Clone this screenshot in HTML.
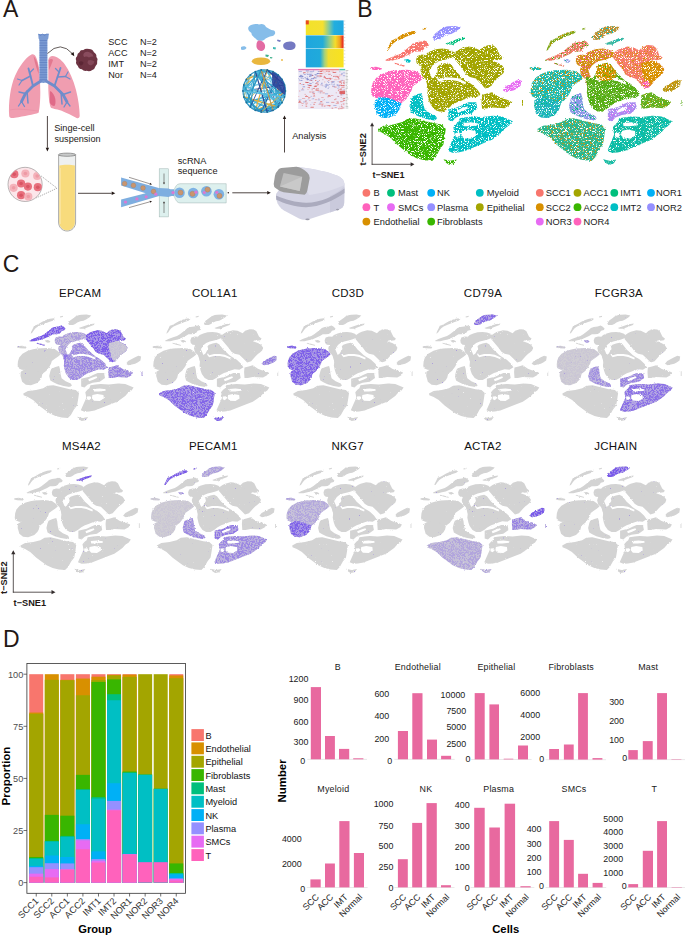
<!DOCTYPE html><html><head><meta charset="utf-8"><title>Figure</title><style>
html,body{margin:0;padding:0;background:#fff;width:685px;height:936px;overflow:hidden}
svg{display:block}text{font-family:"Liberation Sans",sans-serif}
</style></head><body>
<svg width="685" height="936" viewBox="0 0 685 936">
<defs>
<path id="c_endo" fill-rule="nonzero" d="M387.0,51.0 L387.6,48.3 L389.9,43.6 L391.1,40.7 L394.0,39.5 L397.5,37.6 L401.0,35.2 L405.7,33.2 L410.4,31.6 L415.1,30.8 L416.3,31.9 L413.9,33.9 L409.2,35.6 L404.5,37.6 L399.9,39.7 L395.8,41.5 L392.9,43.8 L391.1,46.1 L388.8,49.6 Z M422.5,28.6 L426.4,27.6 L426.0,29.2 L422.8,29.8 Z"/>
<path id="c_b" fill-rule="nonzero" d="M385.3,60.0 L389.4,58.0 L395.2,55.7 L399.9,53.9 L403.4,51.6 L406.9,48.7 L410.4,45.7 L412.7,43.4 L416.2,42.2 L420.9,41.5 L424.4,40.4 L426.7,41.6 L429.3,44.2 L428.5,46.0 L425.0,47.0 L423.4,49.8 L421.0,51.4 L417.4,51.6 L413.9,51.8 L410.4,53.9 L405.7,56.1 L401.0,58.4 L396.4,59.6 L391.7,60.7 L386.0,60.8 Z M394.6,62.7 L399.5,64.0 L404.8,65.6 L404.4,66.7 L399.0,65.2 L394.4,63.8 Z"/>
<path id="c_plasma" fill-rule="nonzero" d="M432.6,37.5 L434.9,33.7 L438.4,31.1 L441.9,28.2 L446.0,26.5 L448.7,26.2 L454.9,25.9 L460.7,27.3 L458.6,29.6 L454.9,32.1 L451.2,34.0 L447.4,34.6 L443.7,36.5 L441.2,38.3 L438.4,39.7 L433.7,39.7 Z"/>
<path id="c_mast" fill-rule="nonzero" d="M445.4,43.5 L452.4,41.0 L458.6,38.6 L464.9,37.6 L463.8,39.6 L457.4,42.1 L453.5,44.0 L453.3,45.8 L452.0,44.6 L447.4,44.6 Z"/>
<path id="c_epiA" fill-rule="nonzero" d="M416.1,59.5 L417.4,56.0 L421.4,54.5 L425.3,54.9 L427.5,52.8 L431.9,50.6 L437.2,49.0 L443.3,48.6 L448.5,49.5 L452.9,51.0 L455.7,53.8 L454.2,56.7 L449.4,58.4 L445.0,59.7 L439.8,61.0 L435.4,63.2 L432.3,65.8 L430.6,68.5 L428.8,71.1 L425.8,70.2 L424.5,67.6 L422.3,65.8 L418.8,65.4 L416.6,63.2 Z M422.0,65.0 L428.8,70.5 L432.0,78.8 L428.2,88.5 L425.6,79.0 L421.8,75.5 L420.5,70.0 Z"/>
<path id="c_epiB" fill-rule="nonzero" d="M454.5,52.5 L458.0,50.0 L461.2,48.4 L467.9,46.4 L473.5,47.2 L479.7,50.3 L482.8,47.2 L488.4,45.1 L493.4,45.4 L496.5,47.9 L498.3,51.6 L499.6,54.7 L502.9,57.4 L501.4,59.4 L497.0,60.2 L494.6,59.4 L492.2,60.7 L498.3,63.0 L502.2,65.5 L504.7,69.2 L503.5,72.9 L500.8,75.6 L498.3,77.4 L495.5,80.3 L490.1,86.8 L485.3,88.4 L480.5,83.4 L475.7,78.5 L470.0,77.0 L466.1,74.4 L462.6,69.2 L459.0,64.8 L456.4,61.3 L453.6,57.8 Z"/>
<path id="c_epiC" fill-rule="evenodd" d="M428.4,77.0 L431.9,78.6 L434.5,76.8 L436.3,73.3 L437.8,70.9 L437.0,67.4 L438.9,65.4 L443.3,63.7 L447.7,62.8 L451.2,64.6 L453.8,68.3 L456.4,71.8 L459.9,75.3 L463.4,78.8 L466.9,81.4 L470.2,83.2 L472.6,85.0 L477.5,89.8 L480.7,94.6 L475.9,98.0 L470.0,97.4 L465.2,99.1 L460.8,100.9 L456.4,102.6 L452.0,105.3 L447.7,108.8 L443.3,111.4 L438.0,111.4 L433.6,108.8 L430.1,103.5 L428.6,98.9 L427.3,92.8 L427.8,87.5 L427.3,83.2 L425.6,78.8 Z M437.2,75.8 L439.0,79.0 L445.0,77.3 L452.0,77.5 L458.0,78.3 L466.0,82.3 L465.5,84.5 L458.0,81.3 L452.0,80.0 L445.0,80.0 L439.0,81.8 L436.6,78.5 Z"/>
<path id="c_epiD" fill-rule="nonzero" d="M482.0,94.9 L487.0,93.6 L492.1,92.2 L498.3,96.6 L503.0,98.5 L507.0,99.7 L511.5,101.7 L509.5,105.1 L504.5,108.2 L498.0,107.8 L492.1,107.5 L486.0,108.6 L482.0,108.8 L481.5,101.0 Z M522.0,100.0 L523.0,100.0 L523.0,106.0 L522.0,106.0 Z"/>
<path id="c_t" fill-rule="nonzero" d="M371.0,93.0 L371.5,87.0 L373.0,82.0 L377.0,77.0 L383.5,73.2 L389.8,71.3 L395.2,70.3 L406.9,69.7 L416.2,70.9 L420.9,74.4 L423.4,78.1 L420.0,81.0 L416.0,84.0 L412.7,86.5 L411.7,90.0 L409.7,94.0 L406.1,99.3 L401.0,103.6 L393.5,101.1 L383.6,98.6 L376.2,98.0 L372.0,96.0 Z M370.5,67.3 L376.0,66.8 L382.0,68.3 L381.0,70.1 L374.0,69.9 L370.3,69.1 Z"/>
<path id="c_nk" fill-rule="nonzero" d="M374.9,100.5 L379.9,97.2 L387.3,97.8 L394.8,100.3 L401.3,103.2 L400.2,108.0 L398.5,111.2 L394.8,115.4 L387.3,118.1 L381.1,117.5 L376.6,113.7 L374.6,106.1 Z"/>
<path id="c_myL" fill-rule="nonzero" d="M410.9,99.9 L412.1,96.8 L417.1,94.3 L421.5,93.1 L422.7,97.4 L423.3,103.6 L424.6,109.2 L429.5,112.9 L435.7,116.0 L437.2,118.5 L434.5,120.6 L427.0,119.3 L419.6,116.8 L414.6,114.4 L410.9,111.9 L409.5,106.1 Z M404.0,59.8 L408.0,59.1 L411.0,60.8 L409.5,62.8 L406.0,62.2 Z"/>
<path id="c_myU" fill-rule="evenodd" d="M448.4,109.8 L452.0,108.6 L458.6,107.1 L463.5,104.5 L468.5,102.2 L476.2,102.2 L477.4,108.6 L471.0,113.7 L462.3,115.0 L456.0,117.5 L452.4,121.2 L448.4,119.9 Z M457.0,110.5 L462.0,108.0 L467.0,106.5 L468.0,108.5 L463.0,111.0 L458.0,113.0 Z"/>
<path id="c_myR" fill-rule="evenodd" d="M459.7,118.3 L466.0,117.2 L472.3,116.4 L482.2,117.1 L493.3,115.8 L502.0,116.4 L512.2,121.0 L509.7,124.9 L505.5,128.0 L502.0,132.3 L497.0,136.0 L492.1,139.8 L485.0,142.5 L477.2,146.0 L471.0,148.5 L464.8,151.0 L458.0,152.4 L452.4,152.8 L447.9,150.8 L451.0,143.3 L454.7,134.6 L453.4,127.2 L456.0,124.0 L458.4,122.2 Z M462.0,131.0 L468.0,129.5 L475.5,131.0 L476.0,135.5 L471.0,138.8 L464.0,138.5 L461.5,135.0 Z M455.5,133.0 L459.5,132.5 L460.5,135.5 L458.0,137.8 L455.5,136.5 Z M463.5,123.0 L471.0,122.3 L478.5,123.5 L478.0,125.5 L470.0,126.3 L464.0,126.2 Z"/>
<path id="c_fib" fill-rule="nonzero" d="M378.0,129.0 L383.6,125.8 L393.5,124.5 L402.2,122.0 L407.2,118.9 L414.6,118.3 L424.6,120.8 L434.5,123.3 L441.9,124.5 L445.8,128.4 L444.6,137.1 L443.4,144.6 L439.6,149.7 L435.9,157.0 L432.2,160.9 L424.6,160.3 L417.1,158.4 L409.7,154.7 L403.5,149.7 L397.3,144.8 L389.8,137.3 L383.6,133.6 L378.4,131.1 Z"/>
<path id="c_fib2" fill-rule="nonzero" d="M443.5,159.3 L450.0,160.8 L456.9,159.6 L454.0,163.7 L449.0,164.8 L446.0,162.7 Z"/>
<path id="c_smc" fill-rule="nonzero" d="M502.8,90.2 L505.5,86.5 L510.0,84.0 L514.0,81.5 L518.0,79.8 L521.3,80.6 L520.5,86.0 L517.0,88.5 L514.0,90.2 L506.0,92.2 Z"/>
<path id="c_epiB_lr" fill-rule="nonzero" d="M482.0,63.0 L492.0,60.5 L498.0,63.0 L502.0,65.5 L504.7,69.2 L503.5,72.9 L500.8,75.6 L498.3,77.4 L495.5,80.3 L490.1,86.8 L486.0,84.0 L484.0,76.0 L482.0,70.0 Z"/>
<path id="c_epiB_pk" fill-rule="nonzero" d="M484.0,82.0 L489.0,80.5 L491.0,84.0 L489.5,87.5 L485.5,88.0 L483.5,85.0 Z"/>
<path id="c_epiC_top" fill-rule="nonzero" d="M437.0,67.0 L438.9,65.4 L443.3,63.7 L447.7,62.8 L451.2,64.6 L453.8,68.3 L456.4,71.8 L457.0,76.0 L452.0,80.0 L446.0,81.0 L440.0,80.0 L436.0,76.0 L436.3,73.3 L437.8,70.9 Z"/>
<marker id="ah" viewBox="0 0 10 10" refX="9" refY="5" markerWidth="5" markerHeight="5" orient="auto"><path d="M0,0 L10,5 L0,10 Z" fill="#231815"/></marker>
<filter id="rag" x="-5%" y="-5%" width="110%" height="110%" color-interpolation-filters="sRGB">
<feTurbulence type="fractalNoise" baseFrequency="0.7" numOctaves="2" seed="4" result="t1"/>
<feDisplacementMap in="SourceGraphic" in2="t1" scale="2.4" xChannelSelector="R" yChannelSelector="G" result="d"/>
<feTurbulence type="fractalNoise" baseFrequency="1.3" numOctaves="1" seed="11" result="t2"/>
<feColorMatrix in="t2" type="matrix" values="0 0 0 0 0 0 0 0 0 0 0 0 0 0 0 -9 0 0 0 5.95" result="m"/>
<feComposite in="d" in2="m" operator="in"/>
</filter>
<filter id="ragc" x="-5%" y="-5%" width="110%" height="110%" color-interpolation-filters="sRGB">
<feMorphology in="SourceGraphic" operator="dilate" radius="0.3" result="dl"/>
<feTurbulence type="fractalNoise" baseFrequency="0.8" numOctaves="2" seed="4" result="t1"/>
<feDisplacementMap in="dl" in2="t1" scale="2.6" xChannelSelector="R" yChannelSelector="G" result="d"/>
<feTurbulence type="fractalNoise" baseFrequency="1.4" numOctaves="1" seed="21" result="t2"/>
<feColorMatrix in="t2" type="matrix" values="0 0 0 0 0 0 0 0 0 0 0 0 0 0 0 -9 0 0 0 7.6" result="m"/>
<feComposite in="d" in2="m" operator="in"/>
</filter>
<filter id="pspk" x="-5%" y="-5%" width="110%" height="110%" color-interpolation-filters="sRGB">
<feTurbulence type="fractalNoise" baseFrequency="1.5" numOctaves="1" seed="53" result="t2"/>
<feColorMatrix in="t2" type="matrix" values="0 0 0 0 0 0 0 0 0 0 0 0 0 0 0 -7 0 0 0 4.05" result="m"/>
<feComposite in="SourceGraphic" in2="m" operator="in"/>
</filter>
<filter id="pdots" x="-5%" y="-5%" width="110%" height="110%" color-interpolation-filters="sRGB">
<feTurbulence type="fractalNoise" baseFrequency="1.3" numOctaves="1" seed="71" result="t2"/>
<feColorMatrix in="t2" type="matrix" values="0 0 0 0 0 0 0 0 0 0 0 0 0 0 0 20 0 0 0 -14.8" result="m"/>
<feComposite in="SourceGraphic" in2="m" operator="in"/>
</filter>
<filter id="spk" x="-5%" y="-5%" width="110%" height="110%" color-interpolation-filters="sRGB">
<feTurbulence type="fractalNoise" baseFrequency="0.7" numOctaves="2" seed="4" result="t1"/>
<feDisplacementMap in="SourceGraphic" in2="t1" scale="2.4" xChannelSelector="R" yChannelSelector="G" result="d"/>
<feTurbulence type="fractalNoise" baseFrequency="1.6" numOctaves="1" seed="37" result="t2"/>
<feColorMatrix in="t2" type="matrix" values="0 0 0 0 0 0 0 0 0 0 0 0 0 0 0 9 0 0 0 -5.2" result="m"/>
<feComposite in="d" in2="m" operator="in"/>
</filter>
</defs>
<rect width="685" height="936" fill="#fff"/>
<text x="3.0" y="16.9" font-size="23" text-anchor="start" fill="#231815">A</text>
<text x="357.2" y="16.8" font-size="23" text-anchor="start" fill="#231815">B</text>
<text x="2.7" y="271.6" font-size="23" text-anchor="start" fill="#231815">C</text>
<text x="2.9" y="647.4" font-size="23" text-anchor="start" fill="#231815">D</text>
<g id="lungs">
<path d="M9.2,116 C8.2,103 10.5,86 15,76 C19,67 25,58 31.5,54.5 C33.5,53.8 35,55 36.2,57.5 C38.6,63 39.6,70 40,80 L40.3,92 C40.3,100 39.8,108 38.6,112.8 C34,114.6 24,116.3 15,117.8 C11.5,118.4 9.4,118 9.2,116 Z" fill="#F09DB0"/>
<path d="M33.5,56 C35.5,58 37.5,62 38.5,68 L38.8,74 C37,70 35,64 33.5,56 Z" fill="#E2788F"/>
<path d="M10,110 C18,108 28,110 38.5,111" stroke="#E58DA2" stroke-width="0.6" fill="none"/>
<path d="M48.3,60 C48.8,57.5 50.5,56 52.5,56 C57,56.2 61,59.5 64.5,64 C69.5,71 73.5,80 76,90 C78.3,99 79.5,108 79.7,115.5 C79.7,117.6 78.4,118.6 76.6,118 C72.5,116 67,113 61,110.6 C56,109 52,108.7 50.8,107.5 C49.3,104 48.5,96 48.3,88 Z" fill="#F09DB0"/>
<path d="M50,91 C52.5,92 54.5,95 55.3,99 C55.8,102 55.5,105 54.3,106 C52.3,106 50.5,104.8 49.8,102.5 Z" fill="#E06A88"/>
<path d="M48.7,60 C50.5,58.5 52.5,58.5 53,60 C52,63 50.5,67 49,70 Z" fill="#E2788F"/>
<path d="M38.2,34 L48.8,34 L48.3,38.5 L47.4,40 L47.4,81 C46,83.5 41,83.5 39.4,81 L39.4,40 L38.6,38.5 Z" fill="#7B9BD3"/>
<line x1="39.6" y1="40.5" x2="47.2" y2="40.5" stroke="#5B7CC0" stroke-width="0.7"/>
<line x1="39.6" y1="43.0" x2="47.2" y2="43.0" stroke="#5B7CC0" stroke-width="0.7"/>
<line x1="39.6" y1="45.4" x2="47.2" y2="45.4" stroke="#5B7CC0" stroke-width="0.7"/>
<line x1="39.6" y1="47.9" x2="47.2" y2="47.9" stroke="#5B7CC0" stroke-width="0.7"/>
<line x1="39.6" y1="50.3" x2="47.2" y2="50.3" stroke="#5B7CC0" stroke-width="0.7"/>
<line x1="39.6" y1="52.8" x2="47.2" y2="52.8" stroke="#5B7CC0" stroke-width="0.7"/>
<line x1="39.6" y1="55.2" x2="47.2" y2="55.2" stroke="#5B7CC0" stroke-width="0.7"/>
<line x1="39.6" y1="57.7" x2="47.2" y2="57.7" stroke="#5B7CC0" stroke-width="0.7"/>
<line x1="39.6" y1="60.1" x2="47.2" y2="60.1" stroke="#5B7CC0" stroke-width="0.7"/>
<line x1="39.6" y1="62.5" x2="47.2" y2="62.5" stroke="#5B7CC0" stroke-width="0.7"/>
<line x1="39.6" y1="65.0" x2="47.2" y2="65.0" stroke="#5B7CC0" stroke-width="0.7"/>
<line x1="39.6" y1="67.5" x2="47.2" y2="67.5" stroke="#5B7CC0" stroke-width="0.7"/>
<line x1="39.6" y1="69.9" x2="47.2" y2="69.9" stroke="#5B7CC0" stroke-width="0.7"/>
<line x1="39.6" y1="72.3" x2="47.2" y2="72.3" stroke="#5B7CC0" stroke-width="0.7"/>
<line x1="39.6" y1="74.8" x2="47.2" y2="74.8" stroke="#5B7CC0" stroke-width="0.7"/>
<line x1="39.6" y1="77.2" x2="47.2" y2="77.2" stroke="#5B7CC0" stroke-width="0.7"/>
<line x1="39.6" y1="79.7" x2="47.2" y2="79.7" stroke="#5B7CC0" stroke-width="0.7"/>
<path d="M38.2,34 L40.5,35.5 L42.5,34 L44.5,35.5 L46.5,34 L48.8,34" stroke="#5B7CC0" stroke-width="0.6" fill="none"/>
<path d="M41,81 L33,86 L25.5,93.5 L21.5,101.5" stroke="#6F8DCB" stroke-width="2.8" fill="none" stroke-linecap="round" stroke-linejoin="round"/>
<path d="M33,86 L30,74 L28.5,68.5" stroke="#6F8DCB" stroke-width="1.9" fill="none" stroke-linecap="round" stroke-linejoin="round"/>
<path d="M30.5,76 L22,80.5" stroke="#6F8DCB" stroke-width="1.5" fill="none" stroke-linecap="round" stroke-linejoin="round"/>
<path d="M29.5,73 L33.5,69" stroke="#6F8DCB" stroke-width="1.3" fill="none" stroke-linecap="round" stroke-linejoin="round"/>
<path d="M25.5,93.5 L19,92" stroke="#6F8DCB" stroke-width="1.5" fill="none" stroke-linecap="round" stroke-linejoin="round"/>
<path d="M27,91 L28,103" stroke="#6F8DCB" stroke-width="1.5" fill="none" stroke-linecap="round" stroke-linejoin="round"/>
<path d="M21.5,101.5 L18.5,106" stroke="#6F8DCB" stroke-width="1.3" fill="none" stroke-linecap="round" stroke-linejoin="round"/>
<path d="M21.5,101.5 L24.5,106.5" stroke="#6F8DCB" stroke-width="1.3" fill="none" stroke-linecap="round" stroke-linejoin="round"/>
<path d="M22,80.5 L17.5,79" stroke="#6F8DCB" stroke-width="1.2" fill="none" stroke-linecap="round" stroke-linejoin="round"/>
<path d="M22,80.5 L19,85" stroke="#6F8DCB" stroke-width="1.2" fill="none" stroke-linecap="round" stroke-linejoin="round"/>
<path d="M46,81 L54.5,86 L63,94.5 L67,102" stroke="#6F8DCB" stroke-width="2.8" fill="none" stroke-linecap="round" stroke-linejoin="round"/>
<path d="M54.5,86 L58.5,74 L60.5,68" stroke="#6F8DCB" stroke-width="1.9" fill="none" stroke-linecap="round" stroke-linejoin="round"/>
<path d="M57.5,77 L65.5,76.5" stroke="#6F8DCB" stroke-width="1.5" fill="none" stroke-linecap="round" stroke-linejoin="round"/>
<path d="M59,72 L55.5,68.5" stroke="#6F8DCB" stroke-width="1.3" fill="none" stroke-linecap="round" stroke-linejoin="round"/>
<path d="M63,94.5 L70.5,92" stroke="#6F8DCB" stroke-width="1.5" fill="none" stroke-linecap="round" stroke-linejoin="round"/>
<path d="M61,92 L62,104" stroke="#6F8DCB" stroke-width="1.5" fill="none" stroke-linecap="round" stroke-linejoin="round"/>
<path d="M67,102 L70,106" stroke="#6F8DCB" stroke-width="1.3" fill="none" stroke-linecap="round" stroke-linejoin="round"/>
<path d="M67,102 L64,107" stroke="#6F8DCB" stroke-width="1.3" fill="none" stroke-linecap="round" stroke-linejoin="round"/>
<path d="M65.5,76.5 L70,79" stroke="#6F8DCB" stroke-width="1.2" fill="none" stroke-linecap="round" stroke-linejoin="round"/>
<path d="M65.5,76.5 L68,72" stroke="#6F8DCB" stroke-width="1.2" fill="none" stroke-linecap="round" stroke-linejoin="round"/>
</g>
<path d="M79.5,52.3 Q80.5,49.5 83,50.2 Q86,48 89.1,49.1 Q92.5,49.2 93.9,52.3 Q96.8,54 96.4,57.1 Q98.4,59 97.2,61.1 Q97.8,64.5 95.6,66 Q94.6,69.5 92.3,70 Q89.5,72 86.7,70.8 Q83.8,71.5 81.9,69.2 Q78.5,69 77.9,66 Q75.2,63.8 76.3,61.1 Q75,58 77.1,56.3 Q77.2,53.2 79.5,52.3 Z" fill="#6D3342"/>
<path d="M84,53 Q87,51 90,52.5 Q93,53.5 93.5,56.5 Q91,56 89,57.5 Q86.5,56 84,57 Q82.5,55 84,53 Z" fill="#8E5163" opacity="0.85"/>
<path d="M88,60.5 Q91.5,59 94.5,61.5 Q94,64.5 91,65.5 Q88.5,65 87.5,63 Z" fill="#8A4D5F" opacity="0.8"/>
<path d="M79,62 Q81.5,60.5 83.5,62.5 Q83,65.5 80.5,65.5 Q78.5,64.5 79,62 Z" fill="#5A2534" opacity="0.9"/>
<path d="M47.5,53.5 Q60.5,40 72.8,54" stroke="#231815" stroke-width="0.7" fill="none"/>
<path d="M74.3,56.3 L70.6,53.9 L73.6,51.9 Z" fill="#231815"/>
<text x="108.3" y="45.1" font-size="9.1" text-anchor="start" fill="#231815">SCC</text>
<text x="139.9" y="45.1" font-size="9.1" text-anchor="start" fill="#231815">N=2</text>
<text x="108.3" y="56.1" font-size="9.1" text-anchor="start" fill="#231815">ACC</text>
<text x="139.9" y="56.1" font-size="9.1" text-anchor="start" fill="#231815">N=2</text>
<text x="108.3" y="67.0" font-size="9.1" text-anchor="start" fill="#231815">IMT</text>
<text x="139.9" y="67.0" font-size="9.1" text-anchor="start" fill="#231815">N=2</text>
<text x="108.3" y="78.0" font-size="9.1" text-anchor="start" fill="#231815">Nor</text>
<text x="139.9" y="78.0" font-size="9.1" text-anchor="start" fill="#231815">N=4</text>
<line x1="47.4" y1="116.0" x2="47.4" y2="147.8" stroke="#231815" stroke-width="0.8"/>
<path d="M47.4,151.4 L45.7,147.8 L49.1,147.8 Z" fill="#231815"/>
<text x="54.2" y="131.1" font-size="9.2" text-anchor="start" fill="#231815">Singe-cell</text>
<text x="54.5" y="141.9" font-size="9.1" text-anchor="start" fill="#231815">suspension</text>
<circle cx="25.1" cy="184.4" r="17.1" fill="#FCE6EA" stroke="#777" stroke-width="0.5"/>
<clipPath id="cc"><circle cx="25.1" cy="184.4" r="17"/></clipPath><g clip-path="url(#cc)">
<circle cx="14.3" cy="174.2" r="4.1" fill="#E8707E"/><circle cx="14.3" cy="174.2" r="1.8" fill="#D95565"/>
<circle cx="25.4" cy="173.5" r="4.1" fill="#F4B2BA"/><circle cx="25.4" cy="173.5" r="1.8" fill="#EE9AA5"/>
<circle cx="37.2" cy="176" r="4.1" fill="#F4B2BA"/><circle cx="37.2" cy="176" r="1.8" fill="#EE9AA5"/>
<circle cx="21.1" cy="183.5" r="4.1" fill="#E8707E"/><circle cx="21.1" cy="183.5" r="1.8" fill="#D95565"/>
<circle cx="27.9" cy="186.6" r="4.1" fill="#E8707E"/><circle cx="27.9" cy="186.6" r="1.8" fill="#D95565"/>
<circle cx="37.8" cy="187.2" r="4.1" fill="#E8707E"/><circle cx="37.8" cy="187.2" r="1.8" fill="#D95565"/>
<circle cx="13.6" cy="187.8" r="4.1" fill="#F4B2BA"/><circle cx="13.6" cy="187.8" r="1.8" fill="#EE9AA5"/>
<circle cx="21.1" cy="195.2" r="4.1" fill="#E8707E"/><circle cx="21.1" cy="195.2" r="1.8" fill="#D95565"/>
<circle cx="28.3" cy="196.5" r="4.1" fill="#F4B2BA"/><circle cx="28.3" cy="196.5" r="1.8" fill="#EE9AA5"/>
</g>
<path d="M41.2,176 L57,188.2 L36.5,197.8" stroke="#555" stroke-width="0.5" stroke-dasharray="1.2,1" fill="none"/>
<path d="M58.6,155 L58.6,222 C58.6,227.5 62.5,231 67.1,231 C71.7,231 75.6,227.5 75.6,222 L75.6,155 Z" fill="#EEF0F0" stroke="#8A8A8A" stroke-width="0.7"/>
<path d="M59.3,165.5 C63,164.6 71,164.6 74.9,165.5 L74.9,222 C74.9,227 71.5,230.3 67.1,230.3 C62.7,230.3 59.3,227 59.3,222 Z" fill="#F8DB7C"/>
<path d="M60.5,168 L60.5,224" stroke="#FBEAB0" stroke-width="0.6"/>
<ellipse cx="67.1" cy="154.7" rx="8.6" ry="1.6" fill="#C8CACA" stroke="#7A7A7A" stroke-width="0.7"/>
<line x1="78.0" y1="193.3" x2="111.7" y2="193.3" stroke="#231815" stroke-width="0.8"/>
<path d="M115.3,193.3 L111.7,195.0 L111.7,191.6 Z" fill="#231815"/>
<path d="M121.1,177.5 L158.8,188 L159.2,196 L121.1,207.3 L121.1,199.4 L145.7,193.3 L121.1,185.4 Z" fill="#7EAEE0"/>
<rect x="159.2" y="168.8" width="9.2" height="48.1" fill="#DDF0EE" stroke="#9FB5B2" stroke-width="0.5"/>
<path d="M158.5,188 L168.5,188.5 C171,189.5 172.5,189.5 174.6,189.2 L174.6,196.2 C172.5,196 171,196 168.5,197 L158.5,196 Z" fill="#7EAEE0"/>
<path d="M180,183.7 L226.2,183.7 L226.2,202.9 L180,202.9 C176.5,202.9 175.5,199 174.2,196.5 L174.2,189.5 C175.5,187 176.5,183.7 180,183.7 Z" fill="#DDF0EE" stroke="#9FB5B2" stroke-width="0.5"/>
<circle cx="179.5" cy="192.8" r="5.3" fill="#7EB2E4"/>
<circle cx="180.5" cy="192.5" r="2.6" fill="#C9956F" stroke="#A8764F" stroke-width="0.3"/>
<circle cx="193.2" cy="193.0" r="5.3" fill="#7EB2E4"/>
<circle cx="192.5" cy="193.8" r="2.6" fill="#C9956F" stroke="#A8764F" stroke-width="0.3"/>
<circle cx="196" cy="192.2" r="1.6" fill="#DA7AD3"/>
<circle cx="206.4" cy="191.3" r="5.3" fill="#7EB2E4"/>
<circle cx="207.5" cy="189.6" r="2.6" fill="#C9956F" stroke="#A8764F" stroke-width="0.3"/>
<circle cx="204.3" cy="192.5" r="1.6" fill="#DA7AD3"/>
<circle cx="218.9" cy="194.3" r="5.3" fill="#7EB2E4"/>
<circle cx="219.5" cy="195.8" r="2.6" fill="#C9956F" stroke="#A8764F" stroke-width="0.3"/>
<circle cx="216.8" cy="192.3" r="1.6" fill="#DA7AD3"/>
<circle cx="173" cy="192.6" r="1.6" fill="#DA7AD3"/>
<circle cx="124.6" cy="183.7" r="2.4" fill="#C9956F" stroke="#A8764F" stroke-width="0.3"/>
<circle cx="133.4" cy="185.4" r="2.4" fill="#C9956F" stroke="#A8764F" stroke-width="0.3"/>
<circle cx="143" cy="188" r="2.4" fill="#C9956F" stroke="#A8764F" stroke-width="0.3"/>
<circle cx="153.5" cy="191.5" r="2.4" fill="#C9956F" stroke="#A8764F" stroke-width="0.3"/>
<circle cx="125.5" cy="202" r="1.6" fill="#DA7AD3"/>
<circle cx="136.9" cy="198.9" r="1.6" fill="#DA7AD3"/>
<circle cx="146.2" cy="196.8" r="1.6" fill="#DA7AD3"/>
<circle cx="155.8" cy="194.2" r="1.6" fill="#DA7AD3"/>
<line x1="129.0" y1="177.3" x2="149.9" y2="183.8" stroke="#231815" stroke-width="0.45"/>
<path d="M152.0,184.4 L149.6,184.8 L150.2,182.7 Z" fill="#231815"/>
<line x1="129.0" y1="207.6" x2="149.9" y2="201.8" stroke="#231815" stroke-width="0.45"/>
<path d="M152.0,201.2 L150.2,202.8 L149.6,200.7 Z" fill="#231815"/>
<line x1="164.0" y1="173.5" x2="164.0" y2="182.5" stroke="#231815" stroke-width="0.45"/>
<path d="M164.0,184.5 L163.0,182.5 L165.0,182.5 Z" fill="#231815"/>
<line x1="164.0" y1="213.0" x2="164.0" y2="203.2" stroke="#231815" stroke-width="0.45"/>
<path d="M164.0,201.2 L165.0,203.2 L163.0,203.2 Z" fill="#231815"/>
<circle cx="228.3" cy="192.8" r="0.8" fill="#231815"/>
<line x1="232.3" y1="192.8" x2="267.2" y2="192.8" stroke="#231815" stroke-width="0.8"/>
<path d="M270.8,192.8 L267.2,194.5 L267.2,191.1 Z" fill="#231815"/>
<text x="177.7" y="163.6" font-size="9.2" text-anchor="start" fill="#231815">scRNA</text>
<text x="177.7" y="174.3" font-size="9.2" text-anchor="start" fill="#231815">sequence</text>
<path d="M296,166.8 C312,168.5 328,172 337,175.5 C342,177.5 344.4,180.5 344.6,185 L344.2,203 C344,206.5 342,208.5 339,209.5 L309,219.3 C305,220.2 302,219.8 299,218.5 L284,210.5 C280,208 277.5,204.5 276.5,200 L276,194 Z" fill="#D4D4E4"/>
<path d="M296,166.8 C312,168.5 328,172 337,175.5 C342,177.5 344.4,180.5 344.6,185 C336,189 322,193.5 309,195 L307.2,191 L309.7,178 L307.2,172.4 Z" fill="#DEDEEB"/>
<path d="M330,196 C336,193 341,190 344.5,186.5 L344.2,203 C344,206.5 342,208.5 339,209.5 L330,212.5 Z" fill="#C6C6D8" opacity="0.7"/>
<path d="M276,195.5 C285,199.5 296,202.5 306,202.8 C320,203 334,196 344.5,188.5 L344.5,193 C334,200.5 320,207 306,207.2 C295,207 284,203.5 276.3,199.8 Z" fill="#ABABBE"/>
<path d="M277.4,171.1 Q278.5,168.3 281.1,168 L296,166.8 Q302,167.5 307.2,172.4 Q310,175 309.7,178 L307.2,191 Q306.5,194 304.7,194.7 L283.6,192.2 Q279,191 276.2,188.5 Q273.5,187 273.7,184 L274.9,176.1 Q275.5,172.5 277.4,171.1 Z" fill="#9C9C9C"/>
<path d="M283.6,173 L302.2,176.7 L299.7,191 L279.9,186.6 Z" fill="#BDBDBD"/>
<path d="M302.2,176.7 L299.7,191 L279.9,186.6 Z" fill="#C9C9C9"/>
<ellipse cx="307.5" cy="219.3" rx="2.2" ry="0.9" fill="#9A9AAA"/>
<ellipse cx="337.5" cy="209.6" rx="1.6" ry="0.8" fill="#9A9AAA"/>
<line x1="284.5" y1="152.5" x2="284.5" y2="119.1" stroke="#231815" stroke-width="0.8"/>
<path d="M284.5,115.5 L286.2,119.1 L282.8,119.1 Z" fill="#231815"/>
<text x="292.2" y="139.0" font-size="9.2" text-anchor="start" fill="#231815">Analysis</text>
<path d="M248.5,27 C251,24 256,23.5 259,24.5 C262,23 265,24.5 266,27 C268.5,28 270,30 274,30.5 C276,32 275.5,35 272.5,36 C269,36.5 266,38 264,40 C261,41.5 257.5,41 256,39 C254,37 251,35.5 251.5,33 C249,31.5 247.5,29.5 248.5,27 Z" fill="#86BDE9"/>
<path d="M241,47 C243,45.5 246,46 246.5,48 C245.5,50 242.5,50.5 241,49.5 Z" fill="#86BDE9"/>
<path d="M258.5,40.5 C261,40 264,41.5 265,45 C265.5,48.5 264,51 261,51 C258,50.5 256,48 256.5,45 C256.5,43 257,41.5 258.5,40.5 Z" fill="#E36BA3"/>
<path d="M283.5,44 C286,41.5 290,41 293,42 C296,43 296.2,46.5 294.5,48.5 C292,50.5 287.5,50.5 285,49 C283,47.8 282.8,45.5 283.5,44 Z" fill="#7479C2"/>
<path d="M277.5,39.5 L281,40.5 L280,42 L277,41 Z" fill="#7479C2"/>
<ellipse cx="261" cy="61.3" rx="9.2" ry="3.8" fill="#E9B73E"/>
<path d="M273,47 L276,47.5 L275.5,49.5 L273,49 Z" fill="#3FB9B5"/>
<path d="M265.5,54.5 L269,55 L268,57 L265.5,56.5 Z" fill="#3FB08A"/>
<path d="M270,57 L272.5,57.3 L272,58.5 L270,58.3 Z" fill="#3FB08A"/>
<circle cx="282" cy="60" r="0.9" fill="#E9B73E"/>
<defs>
<linearGradient id="hg1" x1="0" x2="1" y1="0" y2="0"><stop offset="0" stop-color="#F2E22A"/><stop offset="0.45" stop-color="#F5E030"/><stop offset="0.62" stop-color="#7FC9A0"/><stop offset="0.75" stop-color="#22AEDF"/><stop offset="1" stop-color="#1EA6E0"/></linearGradient>
<linearGradient id="hg2" x1="0" x2="1" y1="0" y2="0"><stop offset="0" stop-color="#1FA6DE"/><stop offset="0.45" stop-color="#22ACDA"/><stop offset="0.62" stop-color="#8ECB8A"/><stop offset="0.78" stop-color="#F5DC2A"/><stop offset="0.9" stop-color="#F2A020"/><stop offset="0.97" stop-color="#E83A20"/></linearGradient>
<linearGradient id="hg3" x1="0" x2="1" y1="0" y2="0"><stop offset="0" stop-color="#1FA6DE"/><stop offset="0.38" stop-color="#20AADB"/><stop offset="0.5" stop-color="#A8D27A"/><stop offset="0.6" stop-color="#F2DE30"/><stop offset="1" stop-color="#F8E21E"/></linearGradient>
</defs>
<rect x="305.8" y="20.4" width="37.8" height="14.6" fill="url(#hg1)"/>
<rect x="305.8" y="20.4" width="3" height="4" fill="#E84A20"/>
<rect x="305.8" y="35.4" width="37.8" height="12.8" fill="url(#hg2)"/>
<rect x="305.8" y="48.6" width="37.8" height="18.8" fill="url(#hg3)"/>
<line x1="343.8" y1="21.0" x2="345.3" y2="21.0" stroke="#aaa" stroke-width="0.4"/>
<line x1="343.8" y1="24.3" x2="345.3" y2="24.3" stroke="#aaa" stroke-width="0.4"/>
<line x1="343.8" y1="27.6" x2="345.3" y2="27.6" stroke="#aaa" stroke-width="0.4"/>
<line x1="343.8" y1="30.9" x2="345.3" y2="30.9" stroke="#aaa" stroke-width="0.4"/>
<line x1="343.8" y1="34.2" x2="345.3" y2="34.2" stroke="#aaa" stroke-width="0.4"/>
<line x1="343.8" y1="37.5" x2="345.3" y2="37.5" stroke="#aaa" stroke-width="0.4"/>
<line x1="343.8" y1="40.8" x2="345.3" y2="40.8" stroke="#aaa" stroke-width="0.4"/>
<line x1="343.8" y1="44.1" x2="345.3" y2="44.1" stroke="#aaa" stroke-width="0.4"/>
<line x1="343.8" y1="47.4" x2="345.3" y2="47.4" stroke="#aaa" stroke-width="0.4"/>
<line x1="343.8" y1="50.7" x2="345.3" y2="50.7" stroke="#aaa" stroke-width="0.4"/>
<line x1="343.8" y1="54.0" x2="345.3" y2="54.0" stroke="#aaa" stroke-width="0.4"/>
<line x1="343.8" y1="57.3" x2="345.3" y2="57.3" stroke="#aaa" stroke-width="0.4"/>
<line x1="343.8" y1="60.6" x2="345.3" y2="60.6" stroke="#aaa" stroke-width="0.4"/>
<line x1="343.8" y1="63.9" x2="345.3" y2="63.9" stroke="#aaa" stroke-width="0.4"/>
<circle cx="264.2" cy="91" r="21.2" fill="none" stroke="#2E8FBF" stroke-width="1.2"/>
<line x1="243.9" y1="97.0" x2="273.0" y2="110.3" stroke="#2A4A9A" stroke-width="0.6"/>
<line x1="282.0" y1="102.5" x2="267.2" y2="70.0" stroke="#3AAAD2" stroke-width="1.2"/>
<line x1="273.0" y1="71.7" x2="284.5" y2="97.0" stroke="#E3B040" stroke-width="0.9"/>
<line x1="282.0" y1="102.5" x2="255.4" y2="110.3" stroke="#3AAAD2" stroke-width="1.5"/>
<line x1="284.5" y1="97.0" x2="273.0" y2="71.7" stroke="#3AAAD2" stroke-width="0.9"/>
<line x1="273.0" y1="71.7" x2="284.5" y2="97.0" stroke="#2A4A9A" stroke-width="0.6"/>
<line x1="255.4" y1="110.3" x2="284.5" y2="97.0" stroke="#E3B040" stroke-width="0.9"/>
<line x1="246.4" y1="102.5" x2="246.4" y2="79.5" stroke="#3AAAD2" stroke-width="0.6"/>
<line x1="273.0" y1="71.7" x2="246.4" y2="102.5" stroke="#E3B040" stroke-width="0.9"/>
<line x1="278.1" y1="107.0" x2="273.0" y2="71.7" stroke="#2A98C4" stroke-width="1.2"/>
<line x1="278.1" y1="107.0" x2="267.2" y2="70.0" stroke="#3AAAD2" stroke-width="0.6"/>
<line x1="278.1" y1="75.0" x2="261.2" y2="112.0" stroke="#56BCDF" stroke-width="1.5"/>
<line x1="243.9" y1="97.0" x2="250.3" y2="75.0" stroke="#56BCDF" stroke-width="1.2"/>
<line x1="246.4" y1="102.5" x2="255.4" y2="110.3" stroke="#3AAAD2" stroke-width="0.9"/>
<line x1="282.0" y1="102.5" x2="273.0" y2="71.7" stroke="#E3B040" stroke-width="1.5"/>
<line x1="243.9" y1="97.0" x2="250.3" y2="75.0" stroke="#E3B040" stroke-width="0.6"/>
<line x1="278.1" y1="107.0" x2="261.2" y2="70.0" stroke="#2A4A9A" stroke-width="0.9"/>
<line x1="243.9" y1="97.0" x2="273.0" y2="110.3" stroke="#56BCDF" stroke-width="1.5"/>
<line x1="284.5" y1="97.0" x2="284.5" y2="85.0" stroke="#3AAAD2" stroke-width="1.2"/>
<line x1="278.1" y1="75.0" x2="255.4" y2="71.7" stroke="#56BCDF" stroke-width="0.6"/>
<line x1="282.0" y1="102.5" x2="250.3" y2="107.0" stroke="#56BCDF" stroke-width="0.6"/>
<line x1="284.5" y1="97.0" x2="246.4" y2="102.5" stroke="#56BCDF" stroke-width="1.2"/>
<line x1="243.9" y1="85.0" x2="284.5" y2="85.0" stroke="#4DB8DC" stroke-width="0.6"/>
<line x1="250.3" y1="75.0" x2="243.0" y2="91.0" stroke="#3AAAD2" stroke-width="0.6"/>
<line x1="255.4" y1="71.7" x2="284.5" y2="97.0" stroke="#2A98C4" stroke-width="1.2"/>
<line x1="273.0" y1="110.3" x2="255.4" y2="110.3" stroke="#2A4A9A" stroke-width="1.5"/>
<line x1="255.4" y1="71.7" x2="282.0" y2="102.5" stroke="#3AAAD2" stroke-width="1.5"/>
<line x1="243.9" y1="85.0" x2="267.2" y2="70.0" stroke="#E3B040" stroke-width="0.9"/>
<line x1="246.4" y1="79.5" x2="267.2" y2="70.0" stroke="#E3B040" stroke-width="1.5"/>
<line x1="243.0" y1="91.0" x2="284.5" y2="85.0" stroke="#2A4A9A" stroke-width="0.9"/>
<line x1="273.0" y1="110.3" x2="282.0" y2="102.5" stroke="#3AAAD2" stroke-width="0.9"/>
<line x1="255.4" y1="110.3" x2="284.5" y2="85.0" stroke="#2A98C4" stroke-width="0.6"/>
<line x1="255.4" y1="71.7" x2="273.0" y2="71.7" stroke="#3AAAD2" stroke-width="1.2"/>
<line x1="246.4" y1="102.5" x2="285.4" y2="91.0" stroke="#3AAAD2" stroke-width="1.5"/>
<line x1="267.2" y1="70.0" x2="243.0" y2="91.0" stroke="#4DB8DC" stroke-width="0.9"/>
<line x1="261.2" y1="70.0" x2="278.1" y2="75.0" stroke="#3AAAD2" stroke-width="1.5"/>
<line x1="284.5" y1="85.0" x2="267.2" y2="70.0" stroke="#2A4A9A" stroke-width="1.5"/>
<line x1="278.1" y1="107.0" x2="255.4" y2="71.7" stroke="#2A4A9A" stroke-width="0.6"/>
<line x1="261.2" y1="112.0" x2="282.0" y2="102.5" stroke="#2A98C4" stroke-width="1.5"/>
<line x1="267.2" y1="112.0" x2="278.1" y2="107.0" stroke="#4DB8DC" stroke-width="0.6"/>
<line x1="278.1" y1="107.0" x2="285.4" y2="91.0" stroke="#3AAAD2" stroke-width="0.6"/>
<line x1="243.0" y1="91.0" x2="278.1" y2="75.0" stroke="#3AAAD2" stroke-width="0.6"/>
<line x1="261.2" y1="112.0" x2="278.1" y2="75.0" stroke="#2A4A9A" stroke-width="0.9"/>
<line x1="282.0" y1="79.5" x2="250.3" y2="107.0" stroke="#4DB8DC" stroke-width="1.2"/>
<line x1="255.4" y1="71.7" x2="278.1" y2="107.0" stroke="#3AAAD2" stroke-width="1.5"/>
<line x1="255.4" y1="71.7" x2="246.4" y2="102.5" stroke="#3AAAD2" stroke-width="0.9"/>
<line x1="278.1" y1="107.0" x2="243.9" y2="97.0" stroke="#E3B040" stroke-width="1.5"/>
<line x1="267.2" y1="112.0" x2="261.2" y2="70.0" stroke="#3AAAD2" stroke-width="0.9"/>
<line x1="261.2" y1="70.0" x2="243.0" y2="91.0" stroke="#3AAAD2" stroke-width="0.6"/>
<line x1="261.2" y1="70.0" x2="246.4" y2="102.5" stroke="#3AAAD2" stroke-width="1.2"/>
<line x1="261.2" y1="70.0" x2="243.0" y2="91.0" stroke="#3AAAD2" stroke-width="1.2"/>
<line x1="255.4" y1="110.3" x2="267.2" y2="70.0" stroke="#E3B040" stroke-width="1.2"/>
<line x1="282.0" y1="79.5" x2="255.4" y2="110.3" stroke="#2A98C4" stroke-width="0.9"/>
<line x1="243.9" y1="85.0" x2="255.4" y2="110.3" stroke="#2A98C4" stroke-width="1.5"/>
<line x1="243.0" y1="91.0" x2="285.4" y2="91.0" stroke="#3AAAD2" stroke-width="1.2"/>
<line x1="255.4" y1="71.7" x2="250.3" y2="107.0" stroke="#2A98C4" stroke-width="1.2"/>
<line x1="250.3" y1="75.0" x2="243.0" y2="91.0" stroke="#4DB8DC" stroke-width="0.6"/>
<line x1="255.4" y1="110.3" x2="278.1" y2="107.0" stroke="#2A98C4" stroke-width="1.5"/>
<line x1="261.2" y1="112.0" x2="243.9" y2="97.0" stroke="#2A98C4" stroke-width="1.5"/>
<line x1="285.4" y1="91.0" x2="255.4" y2="71.7" stroke="#4DB8DC" stroke-width="0.6"/>
<line x1="284.5" y1="85.0" x2="278.1" y2="107.0" stroke="#2A4A9A" stroke-width="0.9"/>
<line x1="255.4" y1="71.7" x2="267.2" y2="112.0" stroke="#2A4A9A" stroke-width="1.2"/>
<line x1="282.0" y1="102.5" x2="243.9" y2="85.0" stroke="#56BCDF" stroke-width="1.5"/>
<line x1="282.0" y1="102.5" x2="267.2" y2="112.0" stroke="#3AAAD2" stroke-width="0.9"/>
<line x1="285.4" y1="91.0" x2="273.0" y2="110.3" stroke="#56BCDF" stroke-width="0.9"/>
<line x1="255.4" y1="71.7" x2="284.5" y2="85.0" stroke="#4DB8DC" stroke-width="0.9"/>
<line x1="273.0" y1="110.3" x2="285.4" y2="91.0" stroke="#3AAAD2" stroke-width="0.6"/>
<line x1="261.2" y1="70.0" x2="273.0" y2="110.3" stroke="#2A4A9A" stroke-width="0.9"/>
<line x1="261.2" y1="112.0" x2="285.4" y2="91.0" stroke="#E3B040" stroke-width="0.9"/>
<line x1="246.4" y1="102.5" x2="261.2" y2="70.0" stroke="#2A98C4" stroke-width="1.2"/>
<line x1="250.3" y1="107.0" x2="267.2" y2="70.0" stroke="#2A4A9A" stroke-width="0.9"/>
<line x1="284.5" y1="97.0" x2="243.0" y2="91.0" stroke="#56BCDF" stroke-width="1.5"/>
<line x1="261.2" y1="70.0" x2="273.0" y2="110.3" stroke="#E3B040" stroke-width="0.9"/>
<line x1="285.4" y1="91.0" x2="250.3" y2="75.0" stroke="#3AAAD2" stroke-width="0.6"/>
<path d="M271.9,71.2 A21.2,21.2 0 0 1 285.0,95.2 L272.2,85.0 Z" fill="#2A3E98" opacity="0.85"/>
<circle cx="285.4" cy="91.0" r="0.9" fill="#1E6E98"/>
<circle cx="284.5" cy="97.0" r="0.9" fill="#1E6E98"/>
<circle cx="282.0" cy="102.5" r="0.9" fill="#1E6E98"/>
<circle cx="278.1" cy="107.0" r="0.9" fill="#1E6E98"/>
<circle cx="273.0" cy="110.3" r="0.9" fill="#1E6E98"/>
<circle cx="267.2" cy="112.0" r="0.9" fill="#1E6E98"/>
<circle cx="261.2" cy="112.0" r="0.9" fill="#1E6E98"/>
<circle cx="255.4" cy="110.3" r="0.9" fill="#1E6E98"/>
<circle cx="250.3" cy="107.0" r="0.9" fill="#1E6E98"/>
<circle cx="246.4" cy="102.5" r="0.9" fill="#1E6E98"/>
<circle cx="243.9" cy="97.0" r="0.9" fill="#1E6E98"/>
<circle cx="243.0" cy="91.0" r="0.9" fill="#1E6E98"/>
<circle cx="243.9" cy="85.0" r="0.9" fill="#1E6E98"/>
<circle cx="246.4" cy="79.5" r="0.9" fill="#1E6E98"/>
<circle cx="250.3" cy="75.0" r="0.9" fill="#1E6E98"/>
<circle cx="255.4" cy="71.7" r="0.9" fill="#1E6E98"/>
<circle cx="261.2" cy="70.0" r="0.9" fill="#1E6E98"/>
<circle cx="267.2" cy="70.0" r="0.9" fill="#1E6E98"/>
<circle cx="273.0" cy="71.7" r="0.9" fill="#1E6E98"/>
<circle cx="278.1" cy="75.0" r="0.9" fill="#1E6E98"/>
<circle cx="282.0" cy="79.5" r="0.9" fill="#1E6E98"/>
<circle cx="284.5" cy="85.0" r="0.9" fill="#1E6E98"/>
<rect x="298.2" y="70.3" width="47" height="38.7" fill="#EDE9F5"/>
<rect x="298.2" y="68.9" width="20.8" height="1.4" fill="#E274B4"/><rect x="319" y="68.9" width="20.3" height="1.4" fill="#F08C8C"/><rect x="339.3" y="68.9" width="5.9" height="1.4" fill="#50C8B0"/>
<rect x="304.7" y="93.9" width="0.8" height="1.0" fill="#E07878" opacity="0.8"/>
<rect x="300.8" y="77.7" width="0.8" height="0.6" fill="#7F88CC" opacity="0.8"/>
<rect x="324.2" y="99.3" width="0.8" height="0.8" fill="#E07878" opacity="0.8"/>
<rect x="343.2" y="93.4" width="1.2" height="1.0" fill="#E07878" opacity="0.8"/>
<rect x="307.6" y="87.4" width="2.4" height="0.6" fill="#D84848" opacity="0.8"/>
<rect x="312.8" y="95.9" width="2.4" height="0.6" fill="#E07878" opacity="0.8"/>
<rect x="312.2" y="75.0" width="1.2" height="1.0" fill="#7F88CC" opacity="0.8"/>
<rect x="315.1" y="80.0" width="1.2" height="0.8" fill="#D84848" opacity="0.8"/>
<rect x="342.2" y="85.5" width="2.4" height="0.6" fill="#E07070" opacity="0.8"/>
<rect x="336.7" y="76.5" width="2.4" height="1.0" fill="#DA5050" opacity="0.8"/>
<rect x="317.7" y="84.0" width="0.8" height="1.0" fill="#D84848" opacity="0.8"/>
<rect x="313.8" y="87.8" width="0.8" height="0.8" fill="#E07878" opacity="0.8"/>
<rect x="334.6" y="107.3" width="0.8" height="0.6" fill="#E07878" opacity="0.8"/>
<rect x="337.5" y="96.1" width="1.6" height="0.8" fill="#E07878" opacity="0.8"/>
<rect x="340.7" y="92.1" width="1.6" height="0.6" fill="#E07878" opacity="0.8"/>
<rect x="335.1" y="77.4" width="0.8" height="0.8" fill="#F2B8B8" opacity="0.8"/>
<rect x="301.3" y="103.2" width="2.4" height="0.6" fill="#E07878" opacity="0.8"/>
<rect x="323.8" y="105.6" width="1.6" height="1.0" fill="#E07878" opacity="0.8"/>
<rect x="322.5" y="79.5" width="0.8" height="0.6" fill="#DA5050" opacity="0.8"/>
<rect x="311.6" y="89.4" width="1.2" height="0.8" fill="#E07878" opacity="0.8"/>
<rect x="299.0" y="79.9" width="0.8" height="0.6" fill="#7F88CC" opacity="0.8"/>
<rect x="323.7" y="77.6" width="2.4" height="0.6" fill="#F2B8B8" opacity="0.8"/>
<rect x="303.1" y="101.5" width="2.4" height="1.0" fill="#A6ACDC" opacity="0.8"/>
<rect x="336.8" y="85.3" width="3.2" height="0.8" fill="#959DD6" opacity="0.8"/>
<rect x="343.6" y="83.4" width="1.2" height="0.8" fill="#E07070" opacity="0.8"/>
<rect x="338.8" y="86.8" width="0.8" height="0.6" fill="#959DD6" opacity="0.8"/>
<rect x="315.8" y="89.6" width="1.6" height="1.0" fill="#E07878" opacity="0.8"/>
<rect x="311.7" y="87.9" width="1.2" height="0.8" fill="#A6ACDC" opacity="0.8"/>
<rect x="310.4" y="106.9" width="3.2" height="0.8" fill="#E07878" opacity="0.8"/>
<rect x="342.8" y="82.2" width="1.6" height="0.6" fill="#E07070" opacity="0.8"/>
<rect x="315.8" y="88.4" width="3.2" height="1.0" fill="#E07878" opacity="0.8"/>
<rect x="321.5" y="70.6" width="1.6" height="0.6" fill="#DA5050" opacity="0.8"/>
<rect x="325.3" y="85.4" width="1.6" height="0.8" fill="#959DD6" opacity="0.8"/>
<rect x="330.2" y="79.1" width="0.8" height="0.6" fill="#DA5050" opacity="0.8"/>
<rect x="314.9" y="74.4" width="2.4" height="1.0" fill="#7F88CC" opacity="0.8"/>
<rect x="299.1" y="90.6" width="1.2" height="0.8" fill="#E07878" opacity="0.8"/>
<rect x="319.3" y="73.1" width="3.2" height="1.0" fill="#DA5050" opacity="0.8"/>
<rect x="337.3" y="79.3" width="1.2" height="0.6" fill="#F2B8B8" opacity="0.8"/>
<rect x="343.3" y="89.2" width="1.9" height="0.6" fill="#A6ACDC" opacity="0.8"/>
<rect x="301.8" y="76.0" width="1.6" height="1.0" fill="#7F88CC" opacity="0.8"/>
<rect x="312.3" y="92.0" width="0.8" height="0.8" fill="#E07878" opacity="0.8"/>
<rect x="310.6" y="95.9" width="1.2" height="1.0" fill="#A6ACDC" opacity="0.8"/>
<rect x="330.9" y="81.3" width="2.4" height="0.8" fill="#E49090" opacity="0.8"/>
<rect x="327.4" y="81.0" width="0.8" height="1.0" fill="#959DD6" opacity="0.8"/>
<rect x="321.2" y="103.7" width="2.4" height="0.6" fill="#E07878" opacity="0.8"/>
<rect x="317.4" y="84.7" width="0.8" height="0.8" fill="#D84848" opacity="0.8"/>
<rect x="339.9" y="81.4" width="1.6" height="0.6" fill="#E07070" opacity="0.8"/>
<rect x="337.7" y="81.1" width="0.8" height="1.0" fill="#959DD6" opacity="0.8"/>
<rect x="341.4" y="79.9" width="1.6" height="0.8" fill="#9CA2D8" opacity="0.8"/>
<rect x="307.0" y="84.6" width="2.4" height="0.6" fill="#8890D0" opacity="0.8"/>
<rect x="327.3" y="105.1" width="3.2" height="1.0" fill="#E07878" opacity="0.8"/>
<rect x="323.6" y="76.9" width="2.4" height="0.8" fill="#DA5050" opacity="0.8"/>
<rect x="312.1" y="91.6" width="2.4" height="0.6" fill="#E07878" opacity="0.8"/>
<rect x="305.7" y="78.3" width="2.4" height="1.0" fill="#7F88CC" opacity="0.8"/>
<rect x="340.1" y="108.3" width="2.4" height="0.8" fill="#E07878" opacity="0.8"/>
<rect x="307.1" y="73.8" width="1.6" height="1.0" fill="#7F88CC" opacity="0.8"/>
<rect x="309.2" y="80.2" width="3.2" height="0.6" fill="#8890D0" opacity="0.8"/>
<rect x="332.8" y="86.1" width="2.4" height="1.0" fill="#959DD6" opacity="0.8"/>
<rect x="315.6" y="83.3" width="0.8" height="0.8" fill="#D84848" opacity="0.8"/>
<rect x="342.9" y="75.2" width="2.3" height="1.0" fill="#9CA2D8" opacity="0.8"/>
<rect x="338.1" y="78.6" width="1.6" height="0.6" fill="#DA5050" opacity="0.8"/>
<rect x="328.0" y="86.8" width="1.6" height="0.6" fill="#959DD6" opacity="0.8"/>
<rect x="317.8" y="99.4" width="2.4" height="1.0" fill="#A6ACDC" opacity="0.8"/>
<rect x="309.7" y="74.5" width="1.2" height="0.6" fill="#7F88CC" opacity="0.8"/>
<rect x="328.0" y="81.9" width="1.2" height="1.0" fill="#959DD6" opacity="0.8"/>
<rect x="327.6" y="96.9" width="0.8" height="0.6" fill="#E07878" opacity="0.8"/>
<rect x="322.4" y="92.5" width="2.4" height="0.8" fill="#E07878" opacity="0.8"/>
<rect x="326.0" y="70.8" width="1.6" height="0.8" fill="#DA5050" opacity="0.8"/>
<rect x="323.5" y="71.5" width="2.4" height="1.0" fill="#F2B8B8" opacity="0.8"/>
<rect x="300.8" y="77.8" width="2.4" height="0.6" fill="#7F88CC" opacity="0.8"/>
<rect x="329.0" y="105.6" width="1.2" height="0.8" fill="#E07878" opacity="0.8"/>
<rect x="313.8" y="86.4" width="2.4" height="0.6" fill="#D84848" opacity="0.8"/>
<rect x="311.7" y="102.5" width="0.8" height="0.6" fill="#A6ACDC" opacity="0.8"/>
<rect x="307.5" y="99.5" width="1.2" height="0.6" fill="#A6ACDC" opacity="0.8"/>
<rect x="310.4" y="104.2" width="0.8" height="1.0" fill="#A6ACDC" opacity="0.8"/>
<rect x="306.9" y="78.9" width="2.4" height="1.0" fill="#7F88CC" opacity="0.8"/>
<rect x="325.7" y="105.4" width="0.8" height="0.6" fill="#E07878" opacity="0.8"/>
<rect x="325.7" y="86.2" width="0.8" height="0.6" fill="#959DD6" opacity="0.8"/>
<rect x="313.4" y="77.4" width="3.2" height="1.0" fill="#7F88CC" opacity="0.8"/>
<rect x="312.6" y="98.0" width="1.6" height="0.8" fill="#A6ACDC" opacity="0.8"/>
<rect x="303.2" y="73.4" width="0.8" height="0.8" fill="#7F88CC" opacity="0.8"/>
<rect x="339.1" y="91.7" width="1.2" height="0.8" fill="#A6ACDC" opacity="0.8"/>
<rect x="336.2" y="101.6" width="2.4" height="0.6" fill="#E07878" opacity="0.8"/>
<rect x="320.1" y="84.6" width="2.4" height="0.6" fill="#959DD6" opacity="0.8"/>
<rect x="333.6" y="71.9" width="0.8" height="0.8" fill="#DA5050" opacity="0.8"/>
<rect x="340.7" y="80.2" width="0.8" height="1.0" fill="#E07070" opacity="0.8"/>
<rect x="310.8" y="106.8" width="3.2" height="0.6" fill="#E07878" opacity="0.8"/>
<rect x="331.3" y="82.4" width="1.6" height="0.8" fill="#959DD6" opacity="0.8"/>
<rect x="340.4" y="101.4" width="1.2" height="0.8" fill="#E07878" opacity="0.8"/>
<rect x="335.3" y="98.5" width="1.2" height="1.0" fill="#E07878" opacity="0.8"/>
<rect x="316.3" y="76.5" width="2.4" height="0.6" fill="#7F88CC" opacity="0.8"/>
<rect x="343.8" y="80.5" width="0.8" height="0.6" fill="#E07070" opacity="0.8"/>
<rect x="321.2" y="97.4" width="2.4" height="0.6" fill="#E07878" opacity="0.8"/>
<rect x="334.0" y="99.3" width="1.6" height="0.8" fill="#E07878" opacity="0.8"/>
<rect x="310.6" y="80.1" width="1.6" height="0.6" fill="#D84848" opacity="0.8"/>
<rect x="306.8" y="79.3" width="1.6" height="1.0" fill="#7F88CC" opacity="0.8"/>
<rect x="301.2" y="80.0" width="1.2" height="1.0" fill="#7F88CC" opacity="0.8"/>
<rect x="328.2" y="74.2" width="2.4" height="0.6" fill="#DA5050" opacity="0.8"/>
<rect x="320.1" y="101.5" width="2.4" height="0.8" fill="#E07878" opacity="0.8"/>
<rect x="311.8" y="74.9" width="1.2" height="1.0" fill="#D85C5C" opacity="0.8"/>
<rect x="318.9" y="80.3" width="0.8" height="0.6" fill="#D84848" opacity="0.8"/>
<rect x="331.0" y="83.7" width="0.8" height="0.8" fill="#959DD6" opacity="0.8"/>
<rect x="306.8" y="82.3" width="1.2" height="0.6" fill="#8890D0" opacity="0.8"/>
<rect x="323.5" y="72.8" width="0.8" height="0.8" fill="#F2B8B8" opacity="0.8"/>
<rect x="317.1" y="81.2" width="1.6" height="0.8" fill="#8890D0" opacity="0.8"/>
<rect x="312.6" y="91.9" width="1.6" height="0.8" fill="#A6ACDC" opacity="0.8"/>
<rect x="338.1" y="108.3" width="1.6" height="1.0" fill="#E07878" opacity="0.8"/>
<rect x="331.8" y="78.1" width="0.8" height="0.8" fill="#F2B8B8" opacity="0.8"/>
<rect x="319.5" y="76.6" width="0.8" height="0.6" fill="#DA5050" opacity="0.8"/>
<rect x="315.3" y="89.6" width="1.2" height="0.8" fill="#E07878" opacity="0.8"/>
<rect x="322.3" y="105.6" width="0.8" height="0.8" fill="#A6ACDC" opacity="0.8"/>
<rect x="335.4" y="107.1" width="1.2" height="0.8" fill="#E07878" opacity="0.8"/>
<rect x="341.8" y="107.5" width="2.4" height="0.8" fill="#E07878" opacity="0.8"/>
<rect x="341.0" y="85.1" width="3.2" height="1.0" fill="#E07070" opacity="0.8"/>
<rect x="305.6" y="100.3" width="1.2" height="1.0" fill="#A6ACDC" opacity="0.8"/>
<rect x="337.3" y="101.9" width="1.2" height="1.0" fill="#E07878" opacity="0.8"/>
<rect x="316.7" y="90.1" width="2.4" height="0.8" fill="#E07878" opacity="0.8"/>
<rect x="337.1" y="95.9" width="1.6" height="0.6" fill="#A6ACDC" opacity="0.8"/>
<rect x="319.3" y="102.7" width="1.6" height="1.0" fill="#A6ACDC" opacity="0.8"/>
<rect x="325.1" y="86.6" width="1.6" height="0.8" fill="#959DD6" opacity="0.8"/>
<rect x="306.5" y="70.5" width="2.4" height="0.8" fill="#7F88CC" opacity="0.8"/>
<rect x="316.7" y="73.0" width="1.6" height="0.8" fill="#7F88CC" opacity="0.8"/>
<rect x="302.0" y="98.3" width="3.2" height="0.6" fill="#E07878" opacity="0.8"/>
<rect x="321.5" y="84.8" width="1.2" height="0.6" fill="#E49090" opacity="0.8"/>
<rect x="344.2" y="98.2" width="0.8" height="0.6" fill="#E07878" opacity="0.8"/>
<rect x="339.1" y="81.3" width="1.2" height="1.0" fill="#E07070" opacity="0.8"/>
<rect x="341.2" y="72.9" width="1.6" height="1.0" fill="#9CA2D8" opacity="0.8"/>
<rect x="305.5" y="104.5" width="1.6" height="0.8" fill="#E07878" opacity="0.8"/>
<rect x="321.4" y="105.4" width="1.2" height="1.0" fill="#E07878" opacity="0.8"/>
<rect x="321.6" y="82.5" width="0.8" height="0.6" fill="#959DD6" opacity="0.8"/>
<rect x="305.6" y="106.0" width="1.6" height="0.8" fill="#E07878" opacity="0.8"/>
<rect x="334.5" y="74.8" width="3.2" height="0.6" fill="#F2B8B8" opacity="0.8"/>
<rect x="339.0" y="74.4" width="3.2" height="1.0" fill="#F2B8B8" opacity="0.8"/>
<rect x="332.3" y="84.5" width="2.4" height="0.8" fill="#959DD6" opacity="0.8"/>
<rect x="314.8" y="99.5" width="2.4" height="0.6" fill="#E07878" opacity="0.8"/>
<rect x="332.6" y="72.2" width="3.2" height="0.8" fill="#DA5050" opacity="0.8"/>
<rect x="342.8" y="103.5" width="1.6" height="1.0" fill="#E07878" opacity="0.8"/>
<rect x="299.8" y="76.1" width="3.2" height="1.0" fill="#7F88CC" opacity="0.8"/>
<rect x="321.9" y="104.4" width="1.2" height="0.8" fill="#E07878" opacity="0.8"/>
<rect x="328.4" y="71.2" width="0.8" height="1.0" fill="#DA5050" opacity="0.8"/>
<rect x="303.1" y="84.0" width="1.2" height="0.8" fill="#D84848" opacity="0.8"/>
<rect x="325.4" y="78.2" width="3.2" height="0.8" fill="#DA5050" opacity="0.8"/>
<rect x="298.9" y="100.9" width="1.2" height="0.8" fill="#E07878" opacity="0.8"/>
<rect x="342.9" y="72.5" width="2.3" height="0.8" fill="#9CA2D8" opacity="0.8"/>
<rect x="324.9" y="93.3" width="3.2" height="1.0" fill="#A6ACDC" opacity="0.8"/>
<rect x="305.8" y="70.4" width="0.8" height="1.0" fill="#7F88CC" opacity="0.8"/>
<rect x="306.8" y="76.5" width="0.8" height="0.6" fill="#7F88CC" opacity="0.8"/>
<rect x="328.5" y="77.9" width="2.4" height="0.6" fill="#DA5050" opacity="0.8"/>
<rect x="327.9" y="95.0" width="2.4" height="1.0" fill="#E07878" opacity="0.8"/>
<rect x="312.5" y="81.8" width="0.8" height="1.0" fill="#8890D0" opacity="0.8"/>
<rect x="331.3" y="70.6" width="2.4" height="1.0" fill="#F2B8B8" opacity="0.8"/>
<rect x="340.9" y="106.2" width="1.6" height="1.0" fill="#E07878" opacity="0.8"/>
<rect x="327.6" y="96.2" width="3.2" height="0.8" fill="#E07878" opacity="0.8"/>
<rect x="341.1" y="104.4" width="0.8" height="1.0" fill="#E07878" opacity="0.8"/>
<rect x="310.2" y="79.4" width="1.2" height="0.6" fill="#7F88CC" opacity="0.8"/>
<rect x="313.3" y="103.8" width="1.6" height="1.0" fill="#E07878" opacity="0.8"/>
<rect x="340.1" y="94.4" width="3.2" height="0.8" fill="#A6ACDC" opacity="0.8"/>
<rect x="322.7" y="70.6" width="0.8" height="0.8" fill="#F2B8B8" opacity="0.8"/>
<rect x="301.8" y="105.0" width="1.2" height="0.6" fill="#E07878" opacity="0.8"/>
<rect x="299.6" y="75.7" width="0.8" height="1.0" fill="#7F88CC" opacity="0.8"/>
<rect x="303.1" y="78.2" width="0.8" height="0.6" fill="#7F88CC" opacity="0.8"/>
<rect x="320.2" y="75.4" width="1.2" height="0.8" fill="#DA5050" opacity="0.8"/>
<rect x="317.8" y="71.2" width="1.6" height="0.8" fill="#7F88CC" opacity="0.8"/>
<rect x="333.3" y="105.0" width="3.2" height="1.0" fill="#A6ACDC" opacity="0.8"/>
<rect x="311.5" y="98.7" width="2.4" height="0.6" fill="#A6ACDC" opacity="0.8"/>
<rect x="333.9" y="83.6" width="0.8" height="1.0" fill="#959DD6" opacity="0.8"/>
<rect x="331.2" y="101.9" width="3.2" height="0.8" fill="#E07878" opacity="0.8"/>
<rect x="298.3" y="78.1" width="0.8" height="0.6" fill="#7F88CC" opacity="0.8"/>
<rect x="342.4" y="90.0" width="2.8" height="0.6" fill="#E07878" opacity="0.8"/>
<rect x="308.1" y="97.0" width="2.4" height="0.6" fill="#E07878" opacity="0.8"/>
<rect x="327.6" y="73.5" width="3.2" height="0.6" fill="#F2B8B8" opacity="0.8"/>
<rect x="314.6" y="85.6" width="2.4" height="1.0" fill="#D84848" opacity="0.8"/>
<rect x="339.2" y="71.4" width="1.2" height="0.8" fill="#9CA2D8" opacity="0.8"/>
<rect x="339.8" y="89.4" width="2.4" height="1.0" fill="#E07878" opacity="0.8"/>
<rect x="319.5" y="90.6" width="3.2" height="1.0" fill="#E07878" opacity="0.8"/>
<rect x="313.1" y="88.0" width="1.6" height="1.0" fill="#E07878" opacity="0.8"/>
<rect x="313.6" y="94.8" width="1.2" height="1.0" fill="#E07878" opacity="0.8"/>
<rect x="343.2" y="97.9" width="2.0" height="1.0" fill="#E07878" opacity="0.8"/>
<rect x="305.8" y="95.4" width="1.2" height="0.8" fill="#E07878" opacity="0.8"/>
<rect x="305.1" y="81.9" width="1.6" height="0.8" fill="#D84848" opacity="0.8"/>
<rect x="319.6" y="70.9" width="2.4" height="1.0" fill="#DA5050" opacity="0.8"/>
<rect x="343.5" y="81.7" width="0.8" height="0.6" fill="#E07070" opacity="0.8"/>
<rect x="332.3" y="70.6" width="1.2" height="0.8" fill="#F2B8B8" opacity="0.8"/>
<rect x="302.7" y="86.3" width="2.4" height="1.0" fill="#8890D0" opacity="0.8"/>
<rect x="305.4" y="102.7" width="2.4" height="0.8" fill="#E07878" opacity="0.8"/>
<rect x="337.9" y="90.1" width="1.2" height="1.0" fill="#E07878" opacity="0.8"/>
<rect x="298.7" y="102.0" width="0.8" height="0.6" fill="#E07878" opacity="0.8"/>
<rect x="308.3" y="97.6" width="1.2" height="1.0" fill="#E07878" opacity="0.8"/>
<rect x="337.3" y="87.8" width="1.2" height="1.0" fill="#A6ACDC" opacity="0.8"/>
<rect x="298.9" y="100.5" width="1.6" height="1.0" fill="#E07878" opacity="0.8"/>
<rect x="309.9" y="84.9" width="0.8" height="0.6" fill="#D84848" opacity="0.8"/>
<rect x="340.5" y="94.3" width="1.6" height="1.0" fill="#E07878" opacity="0.8"/>
<rect x="320.4" y="101.0" width="1.6" height="0.8" fill="#E07878" opacity="0.8"/>
<rect x="328.7" y="84.2" width="1.6" height="0.8" fill="#959DD6" opacity="0.8"/>
<rect x="327.5" y="71.0" width="0.8" height="0.6" fill="#F2B8B8" opacity="0.8"/>
<rect x="328.5" y="79.9" width="0.8" height="1.0" fill="#DA5050" opacity="0.8"/>
<rect x="309.0" y="99.9" width="1.6" height="0.6" fill="#E07878" opacity="0.8"/>
<rect x="318.5" y="103.9" width="3.2" height="0.6" fill="#E07878" opacity="0.8"/>
<rect x="309.0" y="75.7" width="2.4" height="1.0" fill="#7F88CC" opacity="0.8"/>
<rect x="319.8" y="75.9" width="2.4" height="0.6" fill="#DA5050" opacity="0.8"/>
<rect x="319.8" y="91.8" width="1.6" height="0.8" fill="#A6ACDC" opacity="0.8"/>
<rect x="327.6" y="71.5" width="3.2" height="0.6" fill="#F2B8B8" opacity="0.8"/>
<rect x="341.2" y="83.0" width="0.8" height="1.0" fill="#E07070" opacity="0.8"/>
<rect x="333.2" y="75.9" width="1.2" height="1.0" fill="#DA5050" opacity="0.8"/>
<rect x="304.1" y="74.0" width="1.6" height="0.8" fill="#7F88CC" opacity="0.8"/>
<rect x="322.5" y="99.7" width="1.2" height="0.8" fill="#A6ACDC" opacity="0.8"/>
<rect x="317.7" y="91.5" width="1.6" height="0.8" fill="#A6ACDC" opacity="0.8"/>
<rect x="321.0" y="83.1" width="1.6" height="1.0" fill="#959DD6" opacity="0.8"/>
<rect x="307.6" y="89.1" width="0.8" height="0.8" fill="#E07878" opacity="0.8"/>
<rect x="331.1" y="75.2" width="0.8" height="0.6" fill="#DA5050" opacity="0.8"/>
<rect x="323.8" y="85.8" width="3.2" height="0.6" fill="#959DD6" opacity="0.8"/>
<rect x="303.2" y="72.2" width="2.4" height="1.0" fill="#D85C5C" opacity="0.8"/>
<rect x="301.0" y="89.4" width="3.2" height="1.0" fill="#A6ACDC" opacity="0.8"/>
<rect x="305.0" y="96.0" width="3.2" height="1.0" fill="#E07878" opacity="0.8"/>
<rect x="338.4" y="86.4" width="0.8" height="1.0" fill="#959DD6" opacity="0.8"/>
<rect x="338.5" y="75.7" width="1.6" height="1.0" fill="#F2B8B8" opacity="0.8"/>
<rect x="338.0" y="77.4" width="0.8" height="0.8" fill="#DA5050" opacity="0.8"/>
<rect x="300.0" y="74.9" width="2.4" height="1.0" fill="#7F88CC" opacity="0.8"/>
<rect x="316.9" y="73.0" width="2.4" height="1.0" fill="#7F88CC" opacity="0.8"/>
<rect x="302.0" y="88.3" width="1.2" height="1.0" fill="#E07878" opacity="0.8"/>
<rect x="298.4" y="96.4" width="0.8" height="0.6" fill="#E07878" opacity="0.8"/>
<rect x="298.7" y="71.0" width="3.2" height="0.6" fill="#7F88CC" opacity="0.8"/>
<rect x="312.6" y="93.2" width="2.4" height="1.0" fill="#E07878" opacity="0.8"/>
<rect x="304.9" y="100.7" width="1.6" height="1.0" fill="#E07878" opacity="0.8"/>
<rect x="324.4" y="81.5" width="0.8" height="1.0" fill="#E49090" opacity="0.8"/>
<rect x="298.9" y="76.1" width="1.6" height="1.0" fill="#7F88CC" opacity="0.8"/>
<rect x="339.2" y="84.7" width="2.4" height="1.0" fill="#E07070" opacity="0.8"/>
<rect x="309.0" y="87.5" width="0.8" height="0.8" fill="#E07878" opacity="0.8"/>
<rect x="335.7" y="103.4" width="3.2" height="0.6" fill="#E07878" opacity="0.8"/>
<rect x="331.6" y="107.7" width="1.6" height="1.0" fill="#E07878" opacity="0.8"/>
<rect x="333.9" y="79.2" width="3.2" height="1.0" fill="#F2B8B8" opacity="0.8"/>
<rect x="306.9" y="77.7" width="1.2" height="1.0" fill="#7F88CC" opacity="0.8"/>
<rect x="324.9" y="84.0" width="3.2" height="0.6" fill="#959DD6" opacity="0.8"/>
<rect x="334.6" y="76.3" width="3.2" height="0.6" fill="#DA5050" opacity="0.8"/>
<rect x="322.2" y="71.2" width="0.8" height="0.6" fill="#F2B8B8" opacity="0.8"/>
<rect x="338.2" y="88.9" width="3.2" height="0.6" fill="#E07878" opacity="0.8"/>
<rect x="334.2" y="86.6" width="2.4" height="1.0" fill="#E49090" opacity="0.8"/>
<rect x="342.7" y="80.1" width="0.8" height="0.8" fill="#E07070" opacity="0.8"/>
<rect x="306.5" y="73.6" width="0.8" height="0.6" fill="#7F88CC" opacity="0.8"/>
<rect x="340.8" y="97.2" width="0.8" height="0.8" fill="#E07878" opacity="0.8"/>
<rect x="309.0" y="73.8" width="3.2" height="0.8" fill="#7F88CC" opacity="0.8"/>
<rect x="337.5" y="84.5" width="1.2" height="1.0" fill="#959DD6" opacity="0.8"/>
<rect x="300.0" y="80.1" width="1.6" height="0.6" fill="#8890D0" opacity="0.8"/>
<rect x="331.0" y="95.0" width="2.4" height="0.6" fill="#E07878" opacity="0.8"/>
<rect x="312.9" y="70.6" width="1.2" height="1.0" fill="#7F88CC" opacity="0.8"/>
<rect x="325.4" y="87.2" width="0.8" height="0.8" fill="#959DD6" opacity="0.8"/>
<rect x="310.1" y="75.1" width="2.4" height="0.8" fill="#7F88CC" opacity="0.8"/>
<rect x="309.2" y="75.8" width="0.8" height="0.8" fill="#7F88CC" opacity="0.8"/>
<rect x="307.2" y="71.8" width="1.2" height="0.6" fill="#D85C5C" opacity="0.8"/>
<rect x="341.0" y="85.0" width="0.8" height="1.0" fill="#E07070" opacity="0.8"/>
<rect x="343.1" y="82.7" width="1.2" height="0.8" fill="#E07070" opacity="0.8"/>
<rect x="315.1" y="83.0" width="0.8" height="0.6" fill="#8890D0" opacity="0.8"/>
<rect x="323.8" y="75.9" width="1.2" height="0.8" fill="#DA5050" opacity="0.8"/>
<rect x="309.6" y="71.4" width="3.2" height="0.8" fill="#7F88CC" opacity="0.8"/>
<rect x="329.1" y="78.4" width="2.4" height="0.8" fill="#DA5050" opacity="0.8"/>
<rect x="340.9" y="74.1" width="1.6" height="0.8" fill="#9CA2D8" opacity="0.8"/>
<rect x="298.9" y="101.1" width="1.6" height="1.0" fill="#E07878" opacity="0.8"/>
<rect x="298.3" y="102.0" width="3.2" height="0.8" fill="#E07878" opacity="0.8"/>
<rect x="304.6" y="77.2" width="1.2" height="1.0" fill="#7F88CC" opacity="0.8"/>
<rect x="326.0" y="101.9" width="3.2" height="1.0" fill="#A6ACDC" opacity="0.8"/>
<rect x="310.9" y="78.2" width="3.2" height="1.0" fill="#7F88CC" opacity="0.8"/>
<rect x="335.7" y="92.6" width="1.2" height="0.6" fill="#E07878" opacity="0.8"/>
<rect x="332.1" y="85.9" width="0.8" height="1.0" fill="#E49090" opacity="0.8"/>
<rect x="313.7" y="102.4" width="2.4" height="0.6" fill="#E07878" opacity="0.8"/>
<rect x="340.3" y="88.5" width="1.6" height="0.6" fill="#E07878" opacity="0.8"/>
<rect x="336.6" y="84.3" width="1.2" height="1.0" fill="#959DD6" opacity="0.8"/>
<rect x="325.7" y="70.6" width="3.2" height="0.8" fill="#F2B8B8" opacity="0.8"/>
<rect x="301.5" y="84.0" width="1.2" height="0.8" fill="#8890D0" opacity="0.8"/>
<rect x="323.0" y="71.2" width="0.8" height="0.6" fill="#F2B8B8" opacity="0.8"/>
<rect x="306.0" y="82.3" width="3.2" height="0.6" fill="#D84848" opacity="0.8"/>
<rect x="327.6" y="88.0" width="1.2" height="1.0" fill="#A6ACDC" opacity="0.8"/>
<rect x="314.4" y="74.0" width="1.2" height="0.6" fill="#7F88CC" opacity="0.8"/>
<rect x="319.7" y="92.7" width="1.6" height="0.6" fill="#E07878" opacity="0.8"/>
<rect x="316.9" y="75.6" width="3.2" height="0.6" fill="#D85C5C" opacity="0.8"/>
<rect x="322.5" y="85.4" width="0.8" height="0.8" fill="#959DD6" opacity="0.8"/>
<rect x="309.3" y="83.1" width="2.4" height="1.0" fill="#8890D0" opacity="0.8"/>
<rect x="340.4" y="101.4" width="3.2" height="0.6" fill="#E07878" opacity="0.8"/>
<rect x="328.8" y="70.8" width="0.8" height="1.0" fill="#DA5050" opacity="0.8"/>
<rect x="313.2" y="78.0" width="0.8" height="0.6" fill="#7F88CC" opacity="0.8"/>
<rect x="343.0" y="99.9" width="2.2" height="1.0" fill="#E07878" opacity="0.8"/>
<rect x="335.5" y="71.8" width="0.8" height="0.8" fill="#DA5050" opacity="0.8"/>
<rect x="298.8" y="79.4" width="0.8" height="0.8" fill="#7F88CC" opacity="0.8"/>
<rect x="314.3" y="76.7" width="0.8" height="1.0" fill="#D85C5C" opacity="0.8"/>
<rect x="341.3" y="87.1" width="3.2" height="0.6" fill="#E07070" opacity="0.8"/>
<rect x="332.4" y="81.3" width="2.4" height="1.0" fill="#959DD6" opacity="0.8"/>
<rect x="308.4" y="85.1" width="3.2" height="1.0" fill="#D84848" opacity="0.8"/>
<rect x="339.4" y="81.9" width="2.4" height="0.8" fill="#E07070" opacity="0.8"/>
<rect x="299.6" y="83.1" width="1.2" height="1.0" fill="#D84848" opacity="0.8"/>
<rect x="343.0" y="85.5" width="1.6" height="0.6" fill="#E07070" opacity="0.8"/>
<rect x="309.2" y="91.6" width="2.4" height="0.8" fill="#E07878" opacity="0.8"/>
<rect x="343.8" y="81.6" width="0.8" height="0.6" fill="#E07070" opacity="0.8"/>
<rect x="326.2" y="83.6" width="0.8" height="1.0" fill="#959DD6" opacity="0.8"/>
<rect x="318.5" y="98.3" width="0.8" height="1.0" fill="#E07878" opacity="0.8"/>
<rect x="342.5" y="98.5" width="1.2" height="0.8" fill="#E07878" opacity="0.8"/>
<rect x="298.4" y="99.5" width="3.2" height="0.6" fill="#A6ACDC" opacity="0.8"/>
<rect x="326.3" y="84.8" width="2.4" height="1.0" fill="#959DD6" opacity="0.8"/>
<rect x="331.6" y="81.5" width="2.4" height="1.0" fill="#959DD6" opacity="0.8"/>
<rect x="316.0" y="82.6" width="2.4" height="0.8" fill="#D84848" opacity="0.8"/>
<rect x="306.7" y="82.0" width="1.2" height="0.8" fill="#D84848" opacity="0.8"/>
<rect x="325.1" y="73.7" width="1.6" height="0.8" fill="#F2B8B8" opacity="0.8"/>
<rect x="326.3" y="79.6" width="1.6" height="0.6" fill="#F2B8B8" opacity="0.8"/>
<rect x="339.4" y="106.7" width="0.8" height="0.6" fill="#E07878" opacity="0.8"/>
<rect x="339.5" y="91" width="5.6" height="3" fill="#D84848" opacity="0.8"/>
<line x1="345.6" y1="70.5" x2="348.3" y2="70.5" stroke="#666" stroke-width="0.35"/>
<line x1="345.6" y1="72.0" x2="347.4" y2="72.0" stroke="#666" stroke-width="0.35"/>
<line x1="345.6" y1="73.5" x2="347.8" y2="73.5" stroke="#666" stroke-width="0.35"/>
<line x1="345.6" y1="75.0" x2="347.5" y2="75.0" stroke="#666" stroke-width="0.35"/>
<line x1="345.6" y1="76.5" x2="347.9" y2="76.5" stroke="#666" stroke-width="0.35"/>
<line x1="345.6" y1="78.0" x2="347.7" y2="78.0" stroke="#666" stroke-width="0.35"/>
<line x1="345.6" y1="79.5" x2="348.2" y2="79.5" stroke="#666" stroke-width="0.35"/>
<line x1="345.6" y1="81.0" x2="348.1" y2="81.0" stroke="#666" stroke-width="0.35"/>
<line x1="345.6" y1="82.5" x2="347.6" y2="82.5" stroke="#666" stroke-width="0.35"/>
<line x1="345.6" y1="84.0" x2="347.7" y2="84.0" stroke="#666" stroke-width="0.35"/>
<line x1="345.6" y1="85.5" x2="347.1" y2="85.5" stroke="#666" stroke-width="0.35"/>
<line x1="345.6" y1="87.0" x2="348.0" y2="87.0" stroke="#666" stroke-width="0.35"/>
<line x1="345.6" y1="88.5" x2="347.7" y2="88.5" stroke="#666" stroke-width="0.35"/>
<line x1="345.6" y1="90.0" x2="347.0" y2="90.0" stroke="#666" stroke-width="0.35"/>
<line x1="345.6" y1="91.5" x2="347.1" y2="91.5" stroke="#666" stroke-width="0.35"/>
<line x1="345.6" y1="93.0" x2="347.3" y2="93.0" stroke="#666" stroke-width="0.35"/>
<line x1="345.6" y1="94.5" x2="347.6" y2="94.5" stroke="#666" stroke-width="0.35"/>
<line x1="345.6" y1="96.0" x2="347.8" y2="96.0" stroke="#666" stroke-width="0.35"/>
<line x1="345.6" y1="97.5" x2="348.0" y2="97.5" stroke="#666" stroke-width="0.35"/>
<line x1="345.6" y1="99.0" x2="348.4" y2="99.0" stroke="#666" stroke-width="0.35"/>
<line x1="345.6" y1="100.5" x2="347.2" y2="100.5" stroke="#666" stroke-width="0.35"/>
<line x1="345.6" y1="102.0" x2="347.3" y2="102.0" stroke="#666" stroke-width="0.35"/>
<line x1="345.6" y1="103.5" x2="347.6" y2="103.5" stroke="#666" stroke-width="0.35"/>
<line x1="345.6" y1="105.0" x2="347.6" y2="105.0" stroke="#666" stroke-width="0.35"/>
<line x1="345.6" y1="106.5" x2="348.2" y2="106.5" stroke="#666" stroke-width="0.35"/>
<line x1="345.6" y1="108.0" x2="348.3" y2="108.0" stroke="#666" stroke-width="0.35"/>
<g id="bleft" filter="url(#rag)">
<use href="#c_endo" fill="#D89000"/>
<use href="#c_b" fill="#F8766D"/>
<use href="#c_plasma" fill="#9590FF"/>
<use href="#c_mast" fill="#00BF7D"/>
<use href="#c_epiA" fill="#A3A500"/>
<use href="#c_epiB" fill="#A3A500"/>
<use href="#c_epiC" fill="#A3A500"/>
<use href="#c_epiD" fill="#A3A500"/>
<use href="#c_t" fill="#FF62BC"/>
<use href="#c_nk" fill="#00B0F6"/>
<use href="#c_myL" fill="#00BFC4"/>
<use href="#c_myU" fill="#00BFC4"/>
<use href="#c_myR" fill="#00BFC4"/>
<use href="#c_fib" fill="#39B600"/>
<use href="#c_fib2" fill="#39B600"/>
<use href="#c_smc" fill="#E76BF3"/>
</g>
<g transform="translate(159.5,0)"><g filter="url(#rag)">
<use href="#c_endo" fill="#7FA818"/>
<use href="#c_b" fill="#F07A68"/>
<use href="#c_plasma" fill="#C09030"/>
<use href="#c_mast" fill="#40B8A0"/>
<use href="#c_epiA" fill="#D28E10"/>
<use href="#c_epiB" fill="#F67A6C"/>
<use href="#c_epiC" fill="#5EAC1A"/>
<use href="#c_epiD" fill="#60B020"/>
<use href="#c_t" fill="#18BBB0"/>
<use href="#c_nk" fill="#20B4C0"/>
<use href="#c_myL" fill="#8E98E8"/>
<use href="#c_myU" fill="#A88CF0"/>
<use href="#c_myR" fill="#10BCA0"/>
<use href="#c_fib" fill="#28B890"/>
<use href="#c_fib2" fill="#20BCA0"/>
<use href="#c_smc" fill="#B89A18"/>
<use href="#c_epiB_lr" fill="#D89000"/><use href="#c_epiB_pk" fill="#FF62BC"/><use href="#c_epiC_top" fill="#D89000"/>
</g><g filter="url(#spk)">
<use href="#c_endo" fill="#D89000"/>
<use href="#c_b" fill="#39B600"/>
<use href="#c_plasma" fill="#00BFC4"/>
<use href="#c_mast" fill="#00BFC4"/>
<use href="#c_epiA" fill="#FF62BC"/>
<use href="#c_epiB" fill="#D89000"/>
<use href="#c_epiC" fill="#39B600"/>
<use href="#c_epiD" fill="#A3A500"/>
<use href="#c_t" fill="#D89000"/>
<use href="#c_nk" fill="#00BF7D"/>
<use href="#c_myL" fill="#00BF7D"/>
<use href="#c_myU" fill="#E76BF3"/>
<use href="#c_myR" fill="#00BFC4"/>
<use href="#c_fib" fill="#D89000"/>
<use href="#c_fib2" fill="#00BFC4"/>
<use href="#c_smc" fill="#D89000"/>
</g></g>
<line x1="372.1" y1="164.7" x2="372.1" y2="125.5" stroke="#332c2c" stroke-width="0.8"/>
<path d="M372.1,122.4 L370.1,126.2 L374.1,126.2 Z" fill="#332c2c"/>
<line x1="371.7" y1="164.3" x2="411" y2="164.3" stroke="#332c2c" stroke-width="0.8"/>
<path d="M414.4,164.3 L410.6,162.2 L410.6,166.4 Z" fill="#332c2c"/>
<text x="366.3" y="149.4" font-size="9.2" text-anchor="middle" font-weight="bold" fill="#231815" transform="rotate(-90 366.3 149.4)">t−SNE2</text>
<text x="372.4" y="177.6" font-size="9.1" text-anchor="start" font-weight="bold" fill="#231815">t−SNE1</text>
<circle cx="366.4" cy="192.8" r="3.9" fill="#F8766D"/>
<text x="373.6" y="196.1" font-size="9.3" text-anchor="start" fill="#1a1a1a">B</text>
<circle cx="391.0" cy="192.8" r="3.9" fill="#00BF7D"/>
<text x="398.0" y="196.1" font-size="9.3" text-anchor="start" fill="#1a1a1a">Mast</text>
<circle cx="431.2" cy="192.8" r="3.9" fill="#00B0F6"/>
<text x="437.1" y="196.1" font-size="9.3" text-anchor="start" fill="#1a1a1a">NK</text>
<circle cx="479.8" cy="192.8" r="3.9" fill="#00BFC4"/>
<text x="486.8" y="196.1" font-size="9.3" text-anchor="start" fill="#1a1a1a">Myeloid</text>
<circle cx="366.4" cy="207.2" r="3.9" fill="#FF62BC"/>
<text x="373.6" y="210.5" font-size="9.3" text-anchor="start" fill="#1a1a1a">T</text>
<circle cx="391.0" cy="207.2" r="3.9" fill="#E76BF3"/>
<text x="398.0" y="210.5" font-size="9.3" text-anchor="start" fill="#1a1a1a">SMCs</text>
<circle cx="431.2" cy="207.2" r="3.9" fill="#9590FF"/>
<text x="437.1" y="210.5" font-size="9.3" text-anchor="start" fill="#1a1a1a">Plasma</text>
<circle cx="479.8" cy="207.2" r="3.9" fill="#A3A500"/>
<text x="486.8" y="210.5" font-size="9.3" text-anchor="start" fill="#1a1a1a">Epithelial</text>
<circle cx="366.4" cy="221.6" r="3.9" fill="#D89000"/>
<text x="373.6" y="224.9" font-size="9.3" text-anchor="start" fill="#1a1a1a">Endothelial</text>
<circle cx="431.2" cy="221.6" r="3.9" fill="#39B600"/>
<text x="437.1" y="224.9" font-size="9.3" text-anchor="start" fill="#1a1a1a">Fibroblasts</text>
<circle cx="539.8" cy="192.8" r="3.9" fill="#F8766D"/>
<text x="545.8" y="196.1" font-size="9.3" text-anchor="start" fill="#1a1a1a">SCC1</text>
<circle cx="577.5" cy="192.8" r="3.9" fill="#A3A500"/>
<text x="583.5" y="196.1" font-size="9.3" text-anchor="start" fill="#1a1a1a">ACC1</text>
<circle cx="614.3" cy="192.8" r="3.9" fill="#00BF7D"/>
<text x="620.3" y="196.1" font-size="9.3" text-anchor="start" fill="#1a1a1a">IMT1</text>
<circle cx="651.0" cy="192.8" r="3.9" fill="#00B0F6"/>
<text x="656.0" y="196.1" font-size="9.3" text-anchor="start" fill="#1a1a1a">NOR1</text>
<circle cx="539.8" cy="207.2" r="3.9" fill="#D89000"/>
<text x="545.8" y="210.5" font-size="9.3" text-anchor="start" fill="#1a1a1a">SCC2</text>
<circle cx="577.5" cy="207.2" r="3.9" fill="#39B600"/>
<text x="583.5" y="210.5" font-size="9.3" text-anchor="start" fill="#1a1a1a">ACC2</text>
<circle cx="614.3" cy="207.2" r="3.9" fill="#00BFC4"/>
<text x="620.3" y="210.5" font-size="9.3" text-anchor="start" fill="#1a1a1a">IMT2</text>
<circle cx="651.0" cy="207.2" r="3.9" fill="#9590FF"/>
<text x="656.0" y="210.5" font-size="9.3" text-anchor="start" fill="#1a1a1a">NOR2</text>
<circle cx="539.8" cy="221.6" r="3.9" fill="#E76BF3"/>
<text x="545.8" y="224.9" font-size="9.3" text-anchor="start" fill="#1a1a1a">NOR3</text>
<circle cx="577.5" cy="221.6" r="3.9" fill="#FF62BC"/>
<text x="583.5" y="224.9" font-size="9.3" text-anchor="start" fill="#1a1a1a">NOR4</text>
<text x="80.2" y="296.8" font-size="11.5" text-anchor="middle" fill="#111" letter-spacing="0.25">EPCAM</text>
<g transform="translate(-287.41,294.64) scale(0.822,0.7667)"><g filter="url(#ragc)">
<use href="#c_endo" fill="#D3D3D3"/>
<use href="#c_b" fill="#D3D3D3"/>
<use href="#c_plasma" fill="#D3D3D3"/>
<use href="#c_mast" fill="#D3D3D3"/>
<use href="#c_epiA" fill="#D3D3D3"/>
<use href="#c_epiB" fill="#D3D3D3"/>
<use href="#c_epiC" fill="#D3D3D3"/>
<use href="#c_epiD" fill="#D3D3D3"/>
<use href="#c_t" fill="#D3D3D3"/>
<use href="#c_nk" fill="#D3D3D3"/>
<use href="#c_myL" fill="#D3D3D3"/>
<use href="#c_myU" fill="#D3D3D3"/>
<use href="#c_myR" fill="#D3D3D3"/>
<use href="#c_fib" fill="#D3D3D3"/>
<use href="#c_fib2" fill="#D3D3D3"/>
<use href="#c_smc" fill="#D3D3D3"/>
<g filter="url(#pdots)" opacity="0.4"><use href="#c_endo" fill="#7352EA"/><use href="#c_b" fill="#7352EA"/><use href="#c_plasma" fill="#7352EA"/><use href="#c_mast" fill="#7352EA"/><use href="#c_epiA" fill="#7352EA"/><use href="#c_epiB" fill="#7352EA"/><use href="#c_epiC" fill="#7352EA"/><use href="#c_epiD" fill="#7352EA"/><use href="#c_t" fill="#7352EA"/><use href="#c_nk" fill="#7352EA"/><use href="#c_myL" fill="#7352EA"/><use href="#c_myU" fill="#7352EA"/><use href="#c_myR" fill="#7352EA"/><use href="#c_fib" fill="#7352EA"/><use href="#c_fib2" fill="#7352EA"/><use href="#c_smc" fill="#7352EA"/></g>
<g opacity="0.9"><use href="#c_b" fill="#A38FEA"/></g>
<g opacity="0.85"><use href="#c_epiB" fill="#A38FEA"/></g>
<g opacity="0.3"><use href="#c_epiA" fill="#A38FEA"/></g>
<g opacity="0.45"><use href="#c_epiC" fill="#A38FEA"/></g>
<g opacity="0.5"><use href="#c_epiD" fill="#A38FEA"/></g>
<g filter="url(#pspk)">
<g opacity="0.9"><use href="#c_b" fill="#7352EA"/></g>
<g opacity="0.85"><use href="#c_epiB" fill="#7352EA"/></g>
<g opacity="0.3"><use href="#c_epiA" fill="#7352EA"/></g>
<g opacity="0.45"><use href="#c_epiC" fill="#7352EA"/></g>
<g opacity="0.5"><use href="#c_epiD" fill="#7352EA"/></g>
</g>
<use href="#c_epiB_lr" fill="#D3D3D3" opacity="0.85"/>
</g></g>
<text x="214.8" y="296.8" font-size="11.5" text-anchor="middle" fill="#111" letter-spacing="0.25">COL1A1</text>
<g transform="translate(-151.71,294.64) scale(0.822,0.7667)"><g filter="url(#ragc)">
<use href="#c_endo" fill="#D3D3D3"/>
<use href="#c_b" fill="#D3D3D3"/>
<use href="#c_plasma" fill="#D3D3D3"/>
<use href="#c_mast" fill="#D3D3D3"/>
<use href="#c_epiA" fill="#D3D3D3"/>
<use href="#c_epiB" fill="#D3D3D3"/>
<use href="#c_epiC" fill="#D3D3D3"/>
<use href="#c_epiD" fill="#D3D3D3"/>
<use href="#c_t" fill="#D3D3D3"/>
<use href="#c_nk" fill="#D3D3D3"/>
<use href="#c_myL" fill="#D3D3D3"/>
<use href="#c_myU" fill="#D3D3D3"/>
<use href="#c_myR" fill="#D3D3D3"/>
<use href="#c_fib" fill="#D3D3D3"/>
<use href="#c_fib2" fill="#D3D3D3"/>
<use href="#c_smc" fill="#D3D3D3"/>
<g filter="url(#pdots)" opacity="0.4"><use href="#c_endo" fill="#7352EA"/><use href="#c_b" fill="#7352EA"/><use href="#c_plasma" fill="#7352EA"/><use href="#c_mast" fill="#7352EA"/><use href="#c_epiA" fill="#7352EA"/><use href="#c_epiB" fill="#7352EA"/><use href="#c_epiC" fill="#7352EA"/><use href="#c_epiD" fill="#7352EA"/><use href="#c_t" fill="#7352EA"/><use href="#c_nk" fill="#7352EA"/><use href="#c_myL" fill="#7352EA"/><use href="#c_myU" fill="#7352EA"/><use href="#c_myR" fill="#7352EA"/><use href="#c_fib" fill="#7352EA"/><use href="#c_fib2" fill="#7352EA"/><use href="#c_smc" fill="#7352EA"/></g>
<g opacity="0.75"><use href="#c_fib" fill="#A38FEA"/></g>
<g opacity="0.8"><use href="#c_fib2" fill="#A38FEA"/></g>
<g opacity="0.55"><use href="#c_smc" fill="#A38FEA"/></g>
<g filter="url(#pspk)">
<g opacity="0.75"><use href="#c_fib" fill="#7352EA"/></g>
<g opacity="0.8"><use href="#c_fib2" fill="#7352EA"/></g>
<g opacity="0.55"><use href="#c_smc" fill="#7352EA"/></g>
</g>
</g></g>
<text x="347.8" y="296.8" font-size="11.5" text-anchor="middle" fill="#111" letter-spacing="0.25">CD3D</text>
<g transform="translate(-17.41,294.64) scale(0.822,0.7667)"><g filter="url(#ragc)">
<use href="#c_endo" fill="#D3D3D3"/>
<use href="#c_b" fill="#D3D3D3"/>
<use href="#c_plasma" fill="#D3D3D3"/>
<use href="#c_mast" fill="#D3D3D3"/>
<use href="#c_epiA" fill="#D3D3D3"/>
<use href="#c_epiB" fill="#D3D3D3"/>
<use href="#c_epiC" fill="#D3D3D3"/>
<use href="#c_epiD" fill="#D3D3D3"/>
<use href="#c_t" fill="#D3D3D3"/>
<use href="#c_nk" fill="#D3D3D3"/>
<use href="#c_myL" fill="#D3D3D3"/>
<use href="#c_myU" fill="#D3D3D3"/>
<use href="#c_myR" fill="#D3D3D3"/>
<use href="#c_fib" fill="#D3D3D3"/>
<use href="#c_fib2" fill="#D3D3D3"/>
<use href="#c_smc" fill="#D3D3D3"/>
<g filter="url(#pdots)" opacity="0.4"><use href="#c_endo" fill="#7352EA"/><use href="#c_b" fill="#7352EA"/><use href="#c_plasma" fill="#7352EA"/><use href="#c_mast" fill="#7352EA"/><use href="#c_epiA" fill="#7352EA"/><use href="#c_epiB" fill="#7352EA"/><use href="#c_epiC" fill="#7352EA"/><use href="#c_epiD" fill="#7352EA"/><use href="#c_t" fill="#7352EA"/><use href="#c_nk" fill="#7352EA"/><use href="#c_myL" fill="#7352EA"/><use href="#c_myU" fill="#7352EA"/><use href="#c_myR" fill="#7352EA"/><use href="#c_fib" fill="#7352EA"/><use href="#c_fib2" fill="#7352EA"/><use href="#c_smc" fill="#7352EA"/></g>
<g opacity="0.82"><use href="#c_t" fill="#A38FEA"/><use href="#c_nk" fill="#A38FEA"/></g>
<g filter="url(#pspk)">
<g opacity="0.82"><use href="#c_t" fill="#7352EA"/><use href="#c_nk" fill="#7352EA"/></g>
</g>
</g></g>
<text x="483.0" y="296.8" font-size="11.5" text-anchor="middle" fill="#111" letter-spacing="0.25">CD79A</text>
<g transform="translate(118.29,294.64) scale(0.822,0.7667)"><g filter="url(#ragc)">
<use href="#c_endo" fill="#D3D3D3"/>
<use href="#c_b" fill="#D3D3D3"/>
<use href="#c_plasma" fill="#D3D3D3"/>
<use href="#c_mast" fill="#D3D3D3"/>
<use href="#c_epiA" fill="#D3D3D3"/>
<use href="#c_epiB" fill="#D3D3D3"/>
<use href="#c_epiC" fill="#D3D3D3"/>
<use href="#c_epiD" fill="#D3D3D3"/>
<use href="#c_t" fill="#D3D3D3"/>
<use href="#c_nk" fill="#D3D3D3"/>
<use href="#c_myL" fill="#D3D3D3"/>
<use href="#c_myU" fill="#D3D3D3"/>
<use href="#c_myR" fill="#D3D3D3"/>
<use href="#c_fib" fill="#D3D3D3"/>
<use href="#c_fib2" fill="#D3D3D3"/>
<use href="#c_smc" fill="#D3D3D3"/>
<g filter="url(#pdots)" opacity="0.4"><use href="#c_endo" fill="#7352EA"/><use href="#c_b" fill="#7352EA"/><use href="#c_plasma" fill="#7352EA"/><use href="#c_mast" fill="#7352EA"/><use href="#c_epiA" fill="#7352EA"/><use href="#c_epiB" fill="#7352EA"/><use href="#c_epiC" fill="#7352EA"/><use href="#c_epiD" fill="#7352EA"/><use href="#c_t" fill="#7352EA"/><use href="#c_nk" fill="#7352EA"/><use href="#c_myL" fill="#7352EA"/><use href="#c_myU" fill="#7352EA"/><use href="#c_myR" fill="#7352EA"/><use href="#c_fib" fill="#7352EA"/><use href="#c_fib2" fill="#7352EA"/><use href="#c_smc" fill="#7352EA"/></g>
<g opacity="0.7"><use href="#c_plasma" fill="#A38FEA"/></g>
<g filter="url(#pspk)">
<g opacity="0.7"><use href="#c_plasma" fill="#7352EA"/></g>
</g>
</g></g>
<text x="618.9" y="296.8" font-size="11.5" text-anchor="middle" fill="#111" letter-spacing="0.25">FCGR3A</text>
<g transform="translate(251.69,294.64) scale(0.822,0.7667)"><g filter="url(#ragc)">
<use href="#c_endo" fill="#D3D3D3"/>
<use href="#c_b" fill="#D3D3D3"/>
<use href="#c_plasma" fill="#D3D3D3"/>
<use href="#c_mast" fill="#D3D3D3"/>
<use href="#c_epiA" fill="#D3D3D3"/>
<use href="#c_epiB" fill="#D3D3D3"/>
<use href="#c_epiC" fill="#D3D3D3"/>
<use href="#c_epiD" fill="#D3D3D3"/>
<use href="#c_t" fill="#D3D3D3"/>
<use href="#c_nk" fill="#D3D3D3"/>
<use href="#c_myL" fill="#D3D3D3"/>
<use href="#c_myU" fill="#D3D3D3"/>
<use href="#c_myR" fill="#D3D3D3"/>
<use href="#c_fib" fill="#D3D3D3"/>
<use href="#c_fib2" fill="#D3D3D3"/>
<use href="#c_smc" fill="#D3D3D3"/>
<g filter="url(#pdots)" opacity="0.4"><use href="#c_endo" fill="#7352EA"/><use href="#c_b" fill="#7352EA"/><use href="#c_plasma" fill="#7352EA"/><use href="#c_mast" fill="#7352EA"/><use href="#c_epiA" fill="#7352EA"/><use href="#c_epiB" fill="#7352EA"/><use href="#c_epiC" fill="#7352EA"/><use href="#c_epiD" fill="#7352EA"/><use href="#c_t" fill="#7352EA"/><use href="#c_nk" fill="#7352EA"/><use href="#c_myL" fill="#7352EA"/><use href="#c_myU" fill="#7352EA"/><use href="#c_myR" fill="#7352EA"/><use href="#c_fib" fill="#7352EA"/><use href="#c_fib2" fill="#7352EA"/><use href="#c_smc" fill="#7352EA"/></g>
<g opacity="0.65"><use href="#c_myR" fill="#A38FEA"/></g>
<g opacity="0.5"><use href="#c_myU" fill="#A38FEA"/></g>
<g opacity="0.4"><use href="#c_myL" fill="#A38FEA"/></g>
<g opacity="0.06"><use href="#c_t" fill="#A38FEA"/><use href="#c_nk" fill="#A38FEA"/></g>
<g filter="url(#pspk)">
<g opacity="0.65"><use href="#c_myR" fill="#7352EA"/></g>
<g opacity="0.5"><use href="#c_myU" fill="#7352EA"/></g>
<g opacity="0.4"><use href="#c_myL" fill="#7352EA"/></g>
<g opacity="0.06"><use href="#c_t" fill="#7352EA"/><use href="#c_nk" fill="#7352EA"/></g>
</g>
</g></g>
<text x="81.5" y="449.9" font-size="11.5" text-anchor="middle" fill="#111" letter-spacing="0.25">MS4A2</text>
<g transform="translate(-290.21,446.64) scale(0.822,0.7667)"><g filter="url(#ragc)">
<use href="#c_endo" fill="#D3D3D3"/>
<use href="#c_b" fill="#D3D3D3"/>
<use href="#c_plasma" fill="#D3D3D3"/>
<use href="#c_mast" fill="#D3D3D3"/>
<use href="#c_epiA" fill="#D3D3D3"/>
<use href="#c_epiB" fill="#D3D3D3"/>
<use href="#c_epiC" fill="#D3D3D3"/>
<use href="#c_epiD" fill="#D3D3D3"/>
<use href="#c_t" fill="#D3D3D3"/>
<use href="#c_nk" fill="#D3D3D3"/>
<use href="#c_myL" fill="#D3D3D3"/>
<use href="#c_myU" fill="#D3D3D3"/>
<use href="#c_myR" fill="#D3D3D3"/>
<use href="#c_fib" fill="#D3D3D3"/>
<use href="#c_fib2" fill="#D3D3D3"/>
<use href="#c_smc" fill="#D3D3D3"/>
<g filter="url(#pdots)" opacity="0.4"><use href="#c_endo" fill="#7352EA"/><use href="#c_b" fill="#7352EA"/><use href="#c_plasma" fill="#7352EA"/><use href="#c_mast" fill="#7352EA"/><use href="#c_epiA" fill="#7352EA"/><use href="#c_epiB" fill="#7352EA"/><use href="#c_epiC" fill="#7352EA"/><use href="#c_epiD" fill="#7352EA"/><use href="#c_t" fill="#7352EA"/><use href="#c_nk" fill="#7352EA"/><use href="#c_myL" fill="#7352EA"/><use href="#c_myU" fill="#7352EA"/><use href="#c_myR" fill="#7352EA"/><use href="#c_fib" fill="#7352EA"/><use href="#c_fib2" fill="#7352EA"/><use href="#c_smc" fill="#7352EA"/></g>
<g opacity="0.9"><use href="#c_mast" fill="#A38FEA"/></g>
<g filter="url(#pspk)">
<g opacity="0.9"><use href="#c_mast" fill="#7352EA"/></g>
</g>
</g></g>
<text x="213.3" y="449.9" font-size="11.5" text-anchor="middle" fill="#111" letter-spacing="0.25">PECAM1</text>
<g transform="translate(-153.91,446.64) scale(0.822,0.7667)"><g filter="url(#ragc)">
<use href="#c_endo" fill="#D3D3D3"/>
<use href="#c_b" fill="#D3D3D3"/>
<use href="#c_plasma" fill="#D3D3D3"/>
<use href="#c_mast" fill="#D3D3D3"/>
<use href="#c_epiA" fill="#D3D3D3"/>
<use href="#c_epiB" fill="#D3D3D3"/>
<use href="#c_epiC" fill="#D3D3D3"/>
<use href="#c_epiD" fill="#D3D3D3"/>
<use href="#c_t" fill="#D3D3D3"/>
<use href="#c_nk" fill="#D3D3D3"/>
<use href="#c_myL" fill="#D3D3D3"/>
<use href="#c_myU" fill="#D3D3D3"/>
<use href="#c_myR" fill="#D3D3D3"/>
<use href="#c_fib" fill="#D3D3D3"/>
<use href="#c_fib2" fill="#D3D3D3"/>
<use href="#c_smc" fill="#D3D3D3"/>
<g filter="url(#pdots)" opacity="0.4"><use href="#c_endo" fill="#7352EA"/><use href="#c_b" fill="#7352EA"/><use href="#c_plasma" fill="#7352EA"/><use href="#c_mast" fill="#7352EA"/><use href="#c_epiA" fill="#7352EA"/><use href="#c_epiB" fill="#7352EA"/><use href="#c_epiC" fill="#7352EA"/><use href="#c_epiD" fill="#7352EA"/><use href="#c_t" fill="#7352EA"/><use href="#c_nk" fill="#7352EA"/><use href="#c_myL" fill="#7352EA"/><use href="#c_myU" fill="#7352EA"/><use href="#c_myR" fill="#7352EA"/><use href="#c_fib" fill="#7352EA"/><use href="#c_fib2" fill="#7352EA"/><use href="#c_smc" fill="#7352EA"/></g>
<g opacity="0.9"><use href="#c_endo" fill="#A38FEA"/></g>
<g opacity="0.3"><use href="#c_plasma" fill="#A38FEA"/></g>
<g opacity="0.45"><use href="#c_myL" fill="#A38FEA"/><use href="#c_myR" fill="#A38FEA"/></g>
<g opacity="0.6"><use href="#c_myU" fill="#A38FEA"/></g>
<g opacity="0.06"><use href="#c_t" fill="#A38FEA"/><use href="#c_nk" fill="#A38FEA"/></g>
<g filter="url(#pspk)">
<g opacity="0.9"><use href="#c_endo" fill="#7352EA"/></g>
<g opacity="0.3"><use href="#c_plasma" fill="#7352EA"/></g>
<g opacity="0.45"><use href="#c_myL" fill="#7352EA"/><use href="#c_myR" fill="#7352EA"/></g>
<g opacity="0.6"><use href="#c_myU" fill="#7352EA"/></g>
<g opacity="0.06"><use href="#c_t" fill="#7352EA"/><use href="#c_nk" fill="#7352EA"/></g>
</g>
</g></g>
<text x="347.7" y="449.9" font-size="11.5" text-anchor="middle" fill="#111" letter-spacing="0.25">NKG7</text>
<g transform="translate(-18.51,446.64) scale(0.822,0.7667)"><g filter="url(#ragc)">
<use href="#c_endo" fill="#D3D3D3"/>
<use href="#c_b" fill="#D3D3D3"/>
<use href="#c_plasma" fill="#D3D3D3"/>
<use href="#c_mast" fill="#D3D3D3"/>
<use href="#c_epiA" fill="#D3D3D3"/>
<use href="#c_epiB" fill="#D3D3D3"/>
<use href="#c_epiC" fill="#D3D3D3"/>
<use href="#c_epiD" fill="#D3D3D3"/>
<use href="#c_t" fill="#D3D3D3"/>
<use href="#c_nk" fill="#D3D3D3"/>
<use href="#c_myL" fill="#D3D3D3"/>
<use href="#c_myU" fill="#D3D3D3"/>
<use href="#c_myR" fill="#D3D3D3"/>
<use href="#c_fib" fill="#D3D3D3"/>
<use href="#c_fib2" fill="#D3D3D3"/>
<use href="#c_smc" fill="#D3D3D3"/>
<g filter="url(#pdots)" opacity="0.4"><use href="#c_endo" fill="#7352EA"/><use href="#c_b" fill="#7352EA"/><use href="#c_plasma" fill="#7352EA"/><use href="#c_mast" fill="#7352EA"/><use href="#c_epiA" fill="#7352EA"/><use href="#c_epiB" fill="#7352EA"/><use href="#c_epiC" fill="#7352EA"/><use href="#c_epiD" fill="#7352EA"/><use href="#c_t" fill="#7352EA"/><use href="#c_nk" fill="#7352EA"/><use href="#c_myL" fill="#7352EA"/><use href="#c_myU" fill="#7352EA"/><use href="#c_myR" fill="#7352EA"/><use href="#c_fib" fill="#7352EA"/><use href="#c_fib2" fill="#7352EA"/><use href="#c_smc" fill="#7352EA"/></g>
<g opacity="0.8"><use href="#c_nk" fill="#A38FEA"/></g>
<g opacity="0.25"><use href="#c_t" fill="#A38FEA"/></g>
<g filter="url(#pspk)">
<g opacity="0.8"><use href="#c_nk" fill="#7352EA"/></g>
<g opacity="0.25"><use href="#c_t" fill="#7352EA"/></g>
</g>
</g></g>
<text x="482.9" y="449.9" font-size="11.5" text-anchor="middle" fill="#111" letter-spacing="0.25">ACTA2</text>
<g transform="translate(116.09,446.64) scale(0.822,0.7667)"><g filter="url(#ragc)">
<use href="#c_endo" fill="#D3D3D3"/>
<use href="#c_b" fill="#D3D3D3"/>
<use href="#c_plasma" fill="#D3D3D3"/>
<use href="#c_mast" fill="#D3D3D3"/>
<use href="#c_epiA" fill="#D3D3D3"/>
<use href="#c_epiB" fill="#D3D3D3"/>
<use href="#c_epiC" fill="#D3D3D3"/>
<use href="#c_epiD" fill="#D3D3D3"/>
<use href="#c_t" fill="#D3D3D3"/>
<use href="#c_nk" fill="#D3D3D3"/>
<use href="#c_myL" fill="#D3D3D3"/>
<use href="#c_myU" fill="#D3D3D3"/>
<use href="#c_myR" fill="#D3D3D3"/>
<use href="#c_fib" fill="#D3D3D3"/>
<use href="#c_fib2" fill="#D3D3D3"/>
<use href="#c_smc" fill="#D3D3D3"/>
<g filter="url(#pdots)" opacity="0.4"><use href="#c_endo" fill="#7352EA"/><use href="#c_b" fill="#7352EA"/><use href="#c_plasma" fill="#7352EA"/><use href="#c_mast" fill="#7352EA"/><use href="#c_epiA" fill="#7352EA"/><use href="#c_epiB" fill="#7352EA"/><use href="#c_epiC" fill="#7352EA"/><use href="#c_epiD" fill="#7352EA"/><use href="#c_t" fill="#7352EA"/><use href="#c_nk" fill="#7352EA"/><use href="#c_myL" fill="#7352EA"/><use href="#c_myU" fill="#7352EA"/><use href="#c_myR" fill="#7352EA"/><use href="#c_fib" fill="#7352EA"/><use href="#c_fib2" fill="#7352EA"/><use href="#c_smc" fill="#7352EA"/></g>
<g opacity="0.9"><use href="#c_smc" fill="#A38FEA"/></g>
<g opacity="0.5"><use href="#c_epiD" fill="#A38FEA"/></g>
<g opacity="0.25"><use href="#c_fib" fill="#A38FEA"/><use href="#c_fib2" fill="#A38FEA"/></g>
<g filter="url(#pspk)">
<g opacity="0.9"><use href="#c_smc" fill="#7352EA"/></g>
<g opacity="0.5"><use href="#c_epiD" fill="#7352EA"/></g>
<g opacity="0.25"><use href="#c_fib" fill="#7352EA"/><use href="#c_fib2" fill="#7352EA"/></g>
</g>
</g></g>
<text x="615.8" y="449.9" font-size="11.5" text-anchor="middle" fill="#111" letter-spacing="0.25">JCHAIN</text>
<g transform="translate(251.49,446.64) scale(0.822,0.7667)"><g filter="url(#ragc)">
<use href="#c_endo" fill="#D3D3D3"/>
<use href="#c_b" fill="#D3D3D3"/>
<use href="#c_plasma" fill="#D3D3D3"/>
<use href="#c_mast" fill="#D3D3D3"/>
<use href="#c_epiA" fill="#D3D3D3"/>
<use href="#c_epiB" fill="#D3D3D3"/>
<use href="#c_epiC" fill="#D3D3D3"/>
<use href="#c_epiD" fill="#D3D3D3"/>
<use href="#c_t" fill="#D3D3D3"/>
<use href="#c_nk" fill="#D3D3D3"/>
<use href="#c_myL" fill="#D3D3D3"/>
<use href="#c_myU" fill="#D3D3D3"/>
<use href="#c_myR" fill="#D3D3D3"/>
<use href="#c_fib" fill="#D3D3D3"/>
<use href="#c_fib2" fill="#D3D3D3"/>
<use href="#c_smc" fill="#D3D3D3"/>
<g filter="url(#pdots)" opacity="0.4"><use href="#c_endo" fill="#7352EA"/><use href="#c_b" fill="#7352EA"/><use href="#c_plasma" fill="#7352EA"/><use href="#c_mast" fill="#7352EA"/><use href="#c_epiA" fill="#7352EA"/><use href="#c_epiB" fill="#7352EA"/><use href="#c_epiC" fill="#7352EA"/><use href="#c_epiD" fill="#7352EA"/><use href="#c_t" fill="#7352EA"/><use href="#c_nk" fill="#7352EA"/><use href="#c_myL" fill="#7352EA"/><use href="#c_myU" fill="#7352EA"/><use href="#c_myR" fill="#7352EA"/><use href="#c_fib" fill="#7352EA"/><use href="#c_fib2" fill="#7352EA"/><use href="#c_smc" fill="#7352EA"/></g>
<g opacity="0.9"><use href="#c_plasma" fill="#A38FEA"/></g>
<g filter="url(#pspk)">
<g opacity="0.9"><use href="#c_plasma" fill="#7352EA"/></g>
</g>
</g></g>
<line x1="13.3" y1="592.6" x2="13.3" y2="553.5" stroke="#332c2c" stroke-width="0.8"/>
<path d="M13.3,550.2 L11.2,554.2 L15.4,554.2 Z" fill="#332c2c"/>
<line x1="12.9" y1="592.2" x2="52.5" y2="592.2" stroke="#332c2c" stroke-width="0.8"/>
<path d="M55.5,592.2 L51.5,590.1 L51.5,594.3 Z" fill="#332c2c"/>
<text x="7.2" y="577.7" font-size="9.2" text-anchor="middle" font-weight="bold" fill="#231815" transform="rotate(-90 7.2 577.7)">t−SNE2</text>
<text x="13.6" y="605.7" font-size="9.2" text-anchor="start" font-weight="bold" fill="#231815">t−SNE1</text>
<rect x="29.23" y="674.20" width="14.00" height="208.40" fill="#F8766D"/>
<rect x="29.23" y="712.55" width="14.00" height="170.05" fill="#D89000"/>
<rect x="29.23" y="713.80" width="14.00" height="168.80" fill="#A3A500"/>
<rect x="29.23" y="856.97" width="14.00" height="25.63" fill="#39B600"/>
<rect x="29.23" y="858.01" width="14.00" height="24.59" fill="#00BF7D"/>
<rect x="29.23" y="858.84" width="14.00" height="23.76" fill="#00BFC4"/>
<rect x="29.23" y="865.93" width="14.00" height="16.67" fill="#00B0F6"/>
<rect x="29.23" y="867.18" width="14.00" height="15.42" fill="#9590FF"/>
<rect x="29.23" y="873.64" width="14.00" height="8.96" fill="#E76BF3"/>
<rect x="29.23" y="876.76" width="14.00" height="5.84" fill="#FF62BC"/>
<line x1="36.24" y1="893.3" x2="36.24" y2="896.5" stroke="#333" stroke-width="0.7"/>
<text x="39.0" y="901.6" font-size="9.2" text-anchor="end" fill="#333" transform="rotate(-45 39.0 901.6)">SCC1</text>
<rect x="44.79" y="674.20" width="14.00" height="208.40" fill="#D89000"/>
<rect x="44.79" y="679.83" width="14.00" height="202.77" fill="#A3A500"/>
<rect x="44.79" y="814.87" width="14.00" height="67.73" fill="#39B600"/>
<rect x="44.79" y="840.92" width="14.00" height="41.68" fill="#00BF7D"/>
<rect x="44.79" y="841.55" width="14.00" height="41.05" fill="#00BFC4"/>
<rect x="44.79" y="855.51" width="14.00" height="27.09" fill="#00B0F6"/>
<rect x="44.79" y="863.22" width="14.00" height="19.38" fill="#9590FF"/>
<rect x="44.79" y="869.05" width="14.00" height="13.55" fill="#E76BF3"/>
<rect x="44.79" y="877.39" width="14.00" height="5.21" fill="#FF62BC"/>
<line x1="51.79" y1="893.3" x2="51.79" y2="896.5" stroke="#333" stroke-width="0.7"/>
<text x="54.6" y="901.6" font-size="9.2" text-anchor="end" fill="#333" transform="rotate(-45 54.6 901.6)">SCC2</text>
<rect x="60.35" y="674.20" width="14.00" height="208.40" fill="#F8766D"/>
<rect x="60.35" y="679.83" width="14.00" height="202.77" fill="#D89000"/>
<rect x="60.35" y="680.24" width="14.00" height="202.36" fill="#A3A500"/>
<rect x="60.35" y="815.70" width="14.00" height="66.90" fill="#39B600"/>
<rect x="60.35" y="835.92" width="14.00" height="46.68" fill="#00BF7D"/>
<rect x="60.35" y="836.96" width="14.00" height="45.64" fill="#00BFC4"/>
<rect x="60.35" y="856.97" width="14.00" height="25.63" fill="#00B0F6"/>
<rect x="60.35" y="863.43" width="14.00" height="19.17" fill="#9590FF"/>
<rect x="60.35" y="869.05" width="14.00" height="13.55" fill="#E76BF3"/>
<rect x="60.35" y="869.68" width="14.00" height="12.92" fill="#FF62BC"/>
<line x1="67.35" y1="893.3" x2="67.35" y2="896.5" stroke="#333" stroke-width="0.7"/>
<text x="70.2" y="901.6" font-size="9.2" text-anchor="end" fill="#333" transform="rotate(-45 70.2 901.6)">ACC1</text>
<rect x="75.91" y="674.20" width="14.00" height="208.40" fill="#F8766D"/>
<rect x="75.91" y="678.58" width="14.00" height="204.02" fill="#D89000"/>
<rect x="75.91" y="695.25" width="14.00" height="187.35" fill="#A3A500"/>
<rect x="75.91" y="774.86" width="14.00" height="107.74" fill="#39B600"/>
<rect x="75.91" y="789.24" width="14.00" height="93.36" fill="#00BF7D"/>
<rect x="75.91" y="789.86" width="14.00" height="92.74" fill="#00BFC4"/>
<rect x="75.91" y="824.25" width="14.00" height="58.35" fill="#00B0F6"/>
<rect x="75.91" y="839.04" width="14.00" height="43.56" fill="#9590FF"/>
<rect x="75.91" y="840.29" width="14.00" height="42.31" fill="#E76BF3"/>
<rect x="75.91" y="849.26" width="14.00" height="33.34" fill="#FF62BC"/>
<line x1="82.91" y1="893.3" x2="82.91" y2="896.5" stroke="#333" stroke-width="0.7"/>
<text x="85.7" y="901.6" font-size="9.2" text-anchor="end" fill="#333" transform="rotate(-45 85.7 901.6)">ACC2</text>
<rect x="91.47" y="674.20" width="14.00" height="208.40" fill="#F8766D"/>
<rect x="91.47" y="676.70" width="14.00" height="205.90" fill="#D89000"/>
<rect x="91.47" y="680.04" width="14.00" height="202.56" fill="#A3A500"/>
<rect x="91.47" y="681.91" width="14.00" height="200.69" fill="#39B600"/>
<rect x="91.47" y="797.16" width="14.00" height="85.44" fill="#00BF7D"/>
<rect x="91.47" y="798.61" width="14.00" height="83.99" fill="#00BFC4"/>
<rect x="91.47" y="851.34" width="14.00" height="31.26" fill="#00B0F6"/>
<rect x="91.47" y="859.05" width="14.00" height="23.55" fill="#9590FF"/>
<rect x="91.47" y="860.72" width="14.00" height="21.88" fill="#E76BF3"/>
<rect x="91.47" y="862.59" width="14.00" height="20.01" fill="#FF62BC"/>
<line x1="98.47" y1="893.3" x2="98.47" y2="896.5" stroke="#333" stroke-width="0.7"/>
<text x="101.3" y="901.6" font-size="9.2" text-anchor="end" fill="#333" transform="rotate(-45 101.3 901.6)">IMT1</text>
<rect x="107.03" y="674.20" width="14.00" height="208.40" fill="#F8766D"/>
<rect x="107.03" y="674.83" width="14.00" height="207.77" fill="#D89000"/>
<rect x="107.03" y="675.45" width="14.00" height="207.15" fill="#A3A500"/>
<rect x="107.03" y="679.41" width="14.00" height="203.19" fill="#39B600"/>
<rect x="107.03" y="694.21" width="14.00" height="188.39" fill="#00BF7D"/>
<rect x="107.03" y="700.25" width="14.00" height="182.35" fill="#00BFC4"/>
<rect x="107.03" y="783.19" width="14.00" height="99.41" fill="#00B0F6"/>
<rect x="107.03" y="800.91" width="14.00" height="81.69" fill="#9590FF"/>
<rect x="107.03" y="809.66" width="14.00" height="72.94" fill="#E76BF3"/>
<rect x="107.03" y="810.29" width="14.00" height="72.31" fill="#FF62BC"/>
<line x1="114.03" y1="893.3" x2="114.03" y2="896.5" stroke="#333" stroke-width="0.7"/>
<text x="116.8" y="901.6" font-size="9.2" text-anchor="end" fill="#333" transform="rotate(-45 116.8 901.6)">IMT2</text>
<rect x="122.59" y="674.20" width="14.00" height="208.40" fill="#F8766D"/>
<rect x="122.59" y="674.62" width="14.00" height="207.98" fill="#D89000"/>
<rect x="122.59" y="676.91" width="14.00" height="205.69" fill="#A3A500"/>
<rect x="122.59" y="771.52" width="14.00" height="111.08" fill="#39B600"/>
<rect x="122.59" y="772.36" width="14.00" height="110.24" fill="#00BF7D"/>
<rect x="122.59" y="772.98" width="14.00" height="109.62" fill="#00BFC4"/>
<rect x="122.59" y="853.84" width="14.00" height="28.76" fill="#00B0F6"/>
<rect x="122.59" y="854.05" width="14.00" height="28.55" fill="#9590FF"/>
<rect x="122.59" y="854.26" width="14.00" height="28.34" fill="#E76BF3"/>
<rect x="122.59" y="854.47" width="14.00" height="28.13" fill="#FF62BC"/>
<line x1="129.59" y1="893.3" x2="129.59" y2="896.5" stroke="#333" stroke-width="0.7"/>
<text x="132.4" y="901.6" font-size="9.2" text-anchor="end" fill="#333" transform="rotate(-45 132.4 901.6)">NOR1</text>
<rect x="138.15" y="674.20" width="14.00" height="208.40" fill="#A3A500"/>
<rect x="138.15" y="774.44" width="14.00" height="108.16" fill="#39B600"/>
<rect x="138.15" y="774.65" width="14.00" height="107.95" fill="#00BFC4"/>
<rect x="138.15" y="861.97" width="14.00" height="20.63" fill="#00B0F6"/>
<rect x="138.15" y="862.18" width="14.00" height="20.42" fill="#FF62BC"/>
<line x1="145.15" y1="893.3" x2="145.15" y2="896.5" stroke="#333" stroke-width="0.7"/>
<text x="147.9" y="901.6" font-size="9.2" text-anchor="end" fill="#333" transform="rotate(-45 147.9 901.6)">NOR2</text>
<rect x="153.70" y="674.20" width="14.00" height="208.40" fill="#A3A500"/>
<rect x="153.70" y="788.61" width="14.00" height="93.99" fill="#39B600"/>
<rect x="153.70" y="788.82" width="14.00" height="93.78" fill="#00BFC4"/>
<rect x="153.70" y="861.97" width="14.00" height="20.63" fill="#00B0F6"/>
<rect x="153.70" y="862.18" width="14.00" height="20.42" fill="#FF62BC"/>
<line x1="160.71" y1="893.3" x2="160.71" y2="896.5" stroke="#333" stroke-width="0.7"/>
<text x="163.5" y="901.6" font-size="9.2" text-anchor="end" fill="#333" transform="rotate(-45 163.5 901.6)">NOR3</text>
<rect x="169.26" y="674.20" width="14.00" height="208.40" fill="#F8766D"/>
<rect x="169.26" y="675.45" width="14.00" height="207.15" fill="#D89000"/>
<rect x="169.26" y="678.16" width="14.00" height="204.44" fill="#A3A500"/>
<rect x="169.26" y="863.43" width="14.00" height="19.17" fill="#39B600"/>
<rect x="169.26" y="873.01" width="14.00" height="9.59" fill="#00BF7D"/>
<rect x="169.26" y="873.64" width="14.00" height="8.96" fill="#00BFC4"/>
<rect x="169.26" y="874.47" width="14.00" height="8.13" fill="#00B0F6"/>
<rect x="169.26" y="878.43" width="14.00" height="4.17" fill="#9590FF"/>
<rect x="169.26" y="878.85" width="14.00" height="3.75" fill="#E76BF3"/>
<rect x="169.26" y="880.52" width="14.00" height="2.08" fill="#FF62BC"/>
<line x1="176.26" y1="893.3" x2="176.26" y2="896.5" stroke="#333" stroke-width="0.7"/>
<text x="179.1" y="901.6" font-size="9.2" text-anchor="end" fill="#333" transform="rotate(-45 179.1 901.6)">NOR4</text>
<rect x="26.9" y="663.6" width="158.7" height="229.7" fill="none" stroke="#333" stroke-width="0.8"/>
<line x1="23.5" y1="882.6" x2="26.9" y2="882.6" stroke="#333" stroke-width="0.7"/>
<text x="23.3" y="885.9" font-size="9.2" text-anchor="end" fill="#4d4d4d">0</text>
<line x1="23.5" y1="830.5" x2="26.9" y2="830.5" stroke="#333" stroke-width="0.7"/>
<text x="23.3" y="833.8" font-size="9.2" text-anchor="end" fill="#4d4d4d">25</text>
<line x1="23.5" y1="778.4" x2="26.9" y2="778.4" stroke="#333" stroke-width="0.7"/>
<text x="23.3" y="781.7" font-size="9.2" text-anchor="end" fill="#4d4d4d">50</text>
<line x1="23.5" y1="726.3" x2="26.9" y2="726.3" stroke="#333" stroke-width="0.7"/>
<text x="23.3" y="729.6" font-size="9.2" text-anchor="end" fill="#4d4d4d">75</text>
<line x1="23.5" y1="674.2" x2="26.9" y2="674.2" stroke="#333" stroke-width="0.7"/>
<text x="23.3" y="677.5" font-size="9.2" text-anchor="end" fill="#4d4d4d">100</text>
<text x="9.6" y="776.0" font-size="11.5" text-anchor="middle" font-weight="bold" fill="#000" transform="rotate(-90 9.6 776)">Proportion</text>
<text x="95.0" y="932.8" font-size="11.2" text-anchor="middle" font-weight="bold" fill="#000">Group</text>
<rect x="191.4" y="729.1" width="12.5" height="11.9" fill="#F8766D"/>
<text x="205.4" y="738.5" font-size="9.2" text-anchor="start" fill="#111">B</text>
<rect x="191.4" y="742.4" width="12.5" height="11.9" fill="#D89000"/>
<text x="205.4" y="751.8" font-size="9.2" text-anchor="start" fill="#111">Endothelial</text>
<rect x="191.4" y="755.8" width="12.5" height="11.9" fill="#A3A500"/>
<text x="205.4" y="765.2" font-size="9.2" text-anchor="start" fill="#111">Epithelial</text>
<rect x="191.4" y="769.1" width="12.5" height="11.9" fill="#39B600"/>
<text x="205.4" y="778.5" font-size="9.2" text-anchor="start" fill="#111">Fibroblasts</text>
<rect x="191.4" y="782.4" width="12.5" height="11.9" fill="#00BF7D"/>
<text x="205.4" y="791.8" font-size="9.2" text-anchor="start" fill="#111">Mast</text>
<rect x="191.4" y="795.8" width="12.5" height="11.9" fill="#00BFC4"/>
<text x="205.4" y="805.1" font-size="9.2" text-anchor="start" fill="#111">Myeloid</text>
<rect x="191.4" y="809.1" width="12.5" height="11.9" fill="#00B0F6"/>
<text x="205.4" y="818.5" font-size="9.2" text-anchor="start" fill="#111">NK</text>
<rect x="191.4" y="822.4" width="12.5" height="11.9" fill="#9590FF"/>
<text x="205.4" y="831.8" font-size="9.2" text-anchor="start" fill="#111">Plasma</text>
<rect x="191.4" y="835.7" width="12.5" height="11.9" fill="#E76BF3"/>
<text x="205.4" y="845.1" font-size="9.2" text-anchor="start" fill="#111">SMCs</text>
<rect x="191.4" y="849.1" width="12.5" height="11.9" fill="#FF62BC"/>
<text x="205.4" y="858.5" font-size="9.2" text-anchor="start" fill="#111">T</text>
<line x1="307.2" y1="759.4" x2="367.0" y2="759.4" stroke="#E3E3E3" stroke-width="0.8"/>
<rect x="310.80" y="687.10" width="10.20" height="72.20" fill="#E8699F"/>
<rect x="325.00" y="736.00" width="9.90" height="23.30" fill="#E8699F"/>
<rect x="339.00" y="748.90" width="10.20" height="10.40" fill="#E8699F"/>
<rect x="353.20" y="758.30" width="10.20" height="1.00" fill="#E8699F"/>
<text x="308.4" y="682.4" font-size="8.9" text-anchor="end" fill="#1a1a1a">1200</text>
<text x="308.4" y="702.9" font-size="8.9" text-anchor="end" fill="#1a1a1a">900</text>
<text x="308.4" y="724.6" font-size="8.9" text-anchor="end" fill="#1a1a1a">600</text>
<text x="308.4" y="744.5" font-size="8.9" text-anchor="end" fill="#1a1a1a">300</text>
<text x="305.3" y="764.3" font-size="8.9" text-anchor="end" fill="#1a1a1a">0</text>
<text x="337.7" y="670.0" font-size="8.9" text-anchor="middle" fill="#1a1a1a" letter-spacing="0.2">B</text>
<line x1="394.3" y1="759.4" x2="454.7" y2="759.4" stroke="#E3E3E3" stroke-width="0.8"/>
<rect x="397.90" y="731.00" width="10.10" height="28.30" fill="#E8699F"/>
<rect x="412.30" y="693.20" width="10.20" height="66.10" fill="#E8699F"/>
<rect x="427.00" y="739.60" width="10.00" height="19.70" fill="#E8699F"/>
<rect x="441.10" y="755.80" width="10.00" height="3.50" fill="#E8699F"/>
<text x="389.2" y="696.7" font-size="8.9" text-anchor="end" fill="#1a1a1a">600</text>
<text x="389.2" y="719.0" font-size="8.9" text-anchor="end" fill="#1a1a1a">400</text>
<text x="389.2" y="741.9" font-size="8.9" text-anchor="end" fill="#1a1a1a">200</text>
<text x="392.1" y="763.7" font-size="8.9" text-anchor="end" fill="#1a1a1a">0</text>
<text x="417.8" y="670.0" font-size="8.9" text-anchor="middle" fill="#1a1a1a" letter-spacing="0.2">Endothelial</text>
<line x1="471.1" y1="759.5" x2="531.6" y2="759.5" stroke="#E3E3E3" stroke-width="0.8"/>
<rect x="474.70" y="693.10" width="10.00" height="66.30" fill="#E8699F"/>
<rect x="489.40" y="704.40" width="9.60" height="55.00" fill="#E8699F"/>
<rect x="503.70" y="758.70" width="9.60" height="0.70" fill="#E8699F"/>
<rect x="518.00" y="745.50" width="10.00" height="13.90" fill="#E8699F"/>
<text x="465.3" y="698.3" font-size="8.9" text-anchor="end" fill="#1a1a1a">10000</text>
<text x="466.2" y="714.1" font-size="8.9" text-anchor="end" fill="#1a1a1a">7500</text>
<text x="466.2" y="730.3" font-size="8.9" text-anchor="end" fill="#1a1a1a">5000</text>
<text x="466.2" y="746.6" font-size="8.9" text-anchor="end" fill="#1a1a1a">2500</text>
<text x="470.5" y="762.4" font-size="8.9" text-anchor="end" fill="#1a1a1a">0</text>
<text x="496.4" y="670.0" font-size="8.9" text-anchor="middle" fill="#1a1a1a" letter-spacing="0.2">Epithelial</text>
<line x1="545.6" y1="759.7" x2="606.0" y2="759.7" stroke="#E3E3E3" stroke-width="0.8"/>
<rect x="549.20" y="749.00" width="9.80" height="10.60" fill="#E8699F"/>
<rect x="563.90" y="744.50" width="9.80" height="15.10" fill="#E8699F"/>
<rect x="578.10" y="693.10" width="9.80" height="66.50" fill="#E8699F"/>
<rect x="592.50" y="758.10" width="9.90" height="1.50" fill="#E8699F"/>
<text x="540.1" y="695.8" font-size="8.9" text-anchor="end" fill="#1a1a1a">6000</text>
<text x="540.1" y="717.6" font-size="8.9" text-anchor="end" fill="#1a1a1a">4000</text>
<text x="540.1" y="739.5" font-size="8.9" text-anchor="end" fill="#1a1a1a">2000</text>
<text x="544.3" y="761.5" font-size="8.9" text-anchor="end" fill="#1a1a1a">0</text>
<text x="571.2" y="670.0" font-size="8.9" text-anchor="middle" fill="#1a1a1a" letter-spacing="0.2">Fibroblasts</text>
<line x1="624.7" y1="759.6" x2="685.0" y2="759.6" stroke="#E3E3E3" stroke-width="0.8"/>
<rect x="628.30" y="750.10" width="9.50" height="9.40" fill="#E8699F"/>
<rect x="642.80" y="741.10" width="9.90" height="18.40" fill="#E8699F"/>
<rect x="657.10" y="693.10" width="9.90" height="66.40" fill="#E8699F"/>
<rect x="671.40" y="759.10" width="10.00" height="0.40" fill="#E8699F"/>
<text x="624.0" y="704.6" font-size="8.9" text-anchor="end" fill="#1a1a1a">300</text>
<text x="624.0" y="723.7" font-size="8.9" text-anchor="end" fill="#1a1a1a">200</text>
<text x="624.0" y="742.7" font-size="8.9" text-anchor="end" fill="#1a1a1a">100</text>
<text x="627.1" y="761.3" font-size="8.9" text-anchor="end" fill="#1a1a1a">0</text>
<text x="648.2" y="670.0" font-size="8.9" text-anchor="middle" fill="#1a1a1a" letter-spacing="0.2">Mast</text>
<line x1="306.8" y1="887.5" x2="367.6" y2="887.5" stroke="#E3E3E3" stroke-width="0.8"/>
<rect x="310.40" y="879.40" width="10.30" height="8.00" fill="#E8699F"/>
<rect x="325.00" y="863.50" width="9.90" height="23.90" fill="#E8699F"/>
<rect x="339.30" y="821.10" width="10.20" height="66.30" fill="#E8699F"/>
<rect x="353.90" y="853.00" width="10.10" height="34.40" fill="#E8699F"/>
<text x="301.7" y="841.9" font-size="8.9" text-anchor="end" fill="#1a1a1a">4000</text>
<text x="301.7" y="866.7" font-size="8.9" text-anchor="end" fill="#1a1a1a">2000</text>
<text x="305.3" y="891.5" font-size="8.9" text-anchor="end" fill="#1a1a1a">0</text>
<text x="333.3" y="791.6" font-size="8.9" text-anchor="middle" fill="#1a1a1a" letter-spacing="0.2">Myeloid</text>
<text x="319.5" y="897.6" font-size="8.9" text-anchor="end" fill="#1a1a1a" transform="rotate(-45 319.5 897.6)">SCC</text>
<text x="333.9" y="897.6" font-size="8.9" text-anchor="end" fill="#1a1a1a" transform="rotate(-45 333.9 897.6)">ACC</text>
<text x="348.4" y="897.6" font-size="8.9" text-anchor="end" fill="#1a1a1a" transform="rotate(-45 348.4 897.6)">IMT</text>
<text x="362.9" y="897.6" font-size="8.9" text-anchor="end" fill="#1a1a1a" transform="rotate(-45 362.9 897.6)">Normal</text>
<line x1="394.3" y1="887.5" x2="454.5" y2="887.5" stroke="#E3E3E3" stroke-width="0.8"/>
<rect x="397.90" y="859.20" width="9.90" height="28.20" fill="#E8699F"/>
<rect x="412.20" y="822.90" width="9.90" height="64.50" fill="#E8699F"/>
<rect x="426.50" y="803.10" width="10.30" height="84.30" fill="#E8699F"/>
<rect x="441.00" y="885.20" width="9.90" height="2.20" fill="#E8699F"/>
<text x="393.4" y="807.4" font-size="8.9" text-anchor="end" fill="#1a1a1a">1000</text>
<text x="393.4" y="828.5" font-size="8.9" text-anchor="end" fill="#1a1a1a">750</text>
<text x="393.4" y="849.3" font-size="8.9" text-anchor="end" fill="#1a1a1a">500</text>
<text x="393.4" y="870.1" font-size="8.9" text-anchor="end" fill="#1a1a1a">250</text>
<text x="393.4" y="891.2" font-size="8.9" text-anchor="end" fill="#1a1a1a">0</text>
<text x="425.9" y="791.6" font-size="8.9" text-anchor="middle" fill="#1a1a1a" letter-spacing="0.2">NK</text>
<text x="406.9" y="897.6" font-size="8.9" text-anchor="end" fill="#1a1a1a" transform="rotate(-45 406.9 897.6)">SCC</text>
<text x="421.1" y="897.6" font-size="8.9" text-anchor="end" fill="#1a1a1a" transform="rotate(-45 421.1 897.6)">ACC</text>
<text x="435.6" y="897.6" font-size="8.9" text-anchor="end" fill="#1a1a1a" transform="rotate(-45 435.6 897.6)">IMT</text>
<text x="449.9" y="897.6" font-size="8.9" text-anchor="end" fill="#1a1a1a" transform="rotate(-45 449.9 897.6)">Normal</text>
<line x1="470.6" y1="887.5" x2="534.3" y2="887.5" stroke="#E3E3E3" stroke-width="0.8"/>
<rect x="474.20" y="807.80" width="10.50" height="79.60" fill="#E8699F"/>
<rect x="489.30" y="827.50" width="10.60" height="59.90" fill="#E8699F"/>
<rect x="504.60" y="803.70" width="10.50" height="83.70" fill="#E8699F"/>
<rect x="520.40" y="886.20" width="10.30" height="1.20" fill="#E8699F"/>
<text x="469.6" y="808.0" font-size="8.9" text-anchor="end" fill="#1a1a1a">400</text>
<text x="469.6" y="829.1" font-size="8.9" text-anchor="end" fill="#1a1a1a">300</text>
<text x="469.6" y="849.8" font-size="8.9" text-anchor="end" fill="#1a1a1a">200</text>
<text x="469.6" y="870.4" font-size="8.9" text-anchor="end" fill="#1a1a1a">100</text>
<text x="469.6" y="891.2" font-size="8.9" text-anchor="end" fill="#1a1a1a">0</text>
<text x="498.7" y="791.6" font-size="8.9" text-anchor="middle" fill="#1a1a1a" letter-spacing="0.2">Plasma</text>
<text x="483.4" y="897.6" font-size="8.9" text-anchor="end" fill="#1a1a1a" transform="rotate(-45 483.4 897.6)">SCC</text>
<text x="498.6" y="897.6" font-size="8.9" text-anchor="end" fill="#1a1a1a" transform="rotate(-45 498.6 897.6)">ACC</text>
<text x="513.9" y="897.6" font-size="8.9" text-anchor="end" fill="#1a1a1a" transform="rotate(-45 513.9 897.6)">IMT</text>
<text x="529.5" y="897.6" font-size="8.9" text-anchor="end" fill="#1a1a1a" transform="rotate(-45 529.5 897.6)">Normal</text>
<line x1="545.6" y1="887.5" x2="606.2" y2="887.5" stroke="#E3E3E3" stroke-width="0.8"/>
<rect x="549.20" y="821.10" width="9.90" height="66.30" fill="#E8699F"/>
<rect x="563.80" y="839.90" width="10.00" height="47.50" fill="#E8699F"/>
<rect x="578.10" y="873.80" width="9.90" height="13.60" fill="#E8699F"/>
<rect x="592.60" y="882.90" width="10.00" height="4.50" fill="#E8699F"/>
<text x="541.5" y="832.2" font-size="8.9" text-anchor="end" fill="#1a1a1a">400</text>
<text x="541.5" y="846.5" font-size="8.9" text-anchor="end" fill="#1a1a1a">300</text>
<text x="541.5" y="860.8" font-size="8.9" text-anchor="end" fill="#1a1a1a">200</text>
<text x="541.5" y="875.0" font-size="8.9" text-anchor="end" fill="#1a1a1a">100</text>
<text x="544.0" y="889.3" font-size="8.9" text-anchor="end" fill="#1a1a1a">0</text>
<text x="574.0" y="791.6" font-size="8.9" text-anchor="middle" fill="#1a1a1a" letter-spacing="0.2">SMCs</text>
<text x="558.2" y="897.6" font-size="8.9" text-anchor="end" fill="#1a1a1a" transform="rotate(-45 558.2 897.6)">SCC</text>
<text x="572.8" y="897.6" font-size="8.9" text-anchor="end" fill="#1a1a1a" transform="rotate(-45 572.8 897.6)">ACC</text>
<text x="587.0" y="897.6" font-size="8.9" text-anchor="end" fill="#1a1a1a" transform="rotate(-45 587.0 897.6)">IMT</text>
<text x="601.6" y="897.6" font-size="8.9" text-anchor="end" fill="#1a1a1a" transform="rotate(-45 601.6 897.6)">Normal</text>
<line x1="624.7" y1="887.5" x2="685.5" y2="887.5" stroke="#E3E3E3" stroke-width="0.8"/>
<rect x="628.30" y="884.10" width="9.80" height="3.30" fill="#E8699F"/>
<rect x="642.80" y="850.80" width="10.20" height="36.60" fill="#E8699F"/>
<rect x="657.10" y="821.10" width="9.90" height="66.30" fill="#E8699F"/>
<rect x="671.60" y="887.00" width="10.30" height="0.40" fill="#E8699F"/>
<text x="623.1" y="821.9" font-size="8.9" text-anchor="end" fill="#1a1a1a">5000</text>
<text x="623.1" y="835.3" font-size="8.9" text-anchor="end" fill="#1a1a1a">4000</text>
<text x="623.1" y="848.7" font-size="8.9" text-anchor="end" fill="#1a1a1a">3000</text>
<text x="623.1" y="862.4" font-size="8.9" text-anchor="end" fill="#1a1a1a">2000</text>
<text x="623.1" y="875.7" font-size="8.9" text-anchor="end" fill="#1a1a1a">1000</text>
<text x="626.8" y="889.1" font-size="8.9" text-anchor="end" fill="#1a1a1a">0</text>
<text x="654.4" y="791.6" font-size="8.9" text-anchor="middle" fill="#1a1a1a" letter-spacing="0.2">T</text>
<text x="637.2" y="897.6" font-size="8.9" text-anchor="end" fill="#1a1a1a" transform="rotate(-45 637.2 897.6)">SCC</text>
<text x="651.9" y="897.6" font-size="8.9" text-anchor="end" fill="#1a1a1a" transform="rotate(-45 651.9 897.6)">ACC</text>
<text x="666.0" y="897.6" font-size="8.9" text-anchor="end" fill="#1a1a1a" transform="rotate(-45 666.0 897.6)">IMT</text>
<text x="680.8" y="897.6" font-size="8.9" text-anchor="end" fill="#1a1a1a" transform="rotate(-45 680.8 897.6)">Normal</text>
<text x="286.3" y="780.9" font-size="11.4" text-anchor="middle" font-weight="bold" fill="#000" transform="rotate(-90 286.3 780.9)">Number</text>
<text x="505.7" y="933.2" font-size="11.3" text-anchor="middle" font-weight="bold" fill="#000">Cells</text>
</svg></body></html>
